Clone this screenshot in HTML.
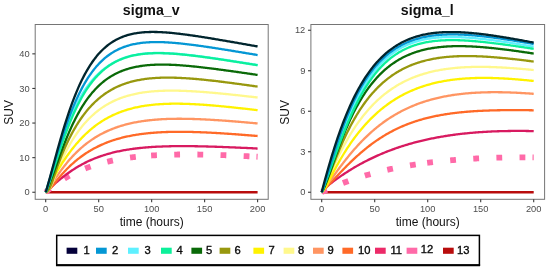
<!DOCTYPE html>
<html><head><meta charset="utf-8"><title>sigma_v / sigma_l</title>
<style>
html,body{margin:0;padding:0;background:#fff;}
body{width:550px;height:273px;overflow:hidden;font-family:"Liberation Sans",Arial,sans-serif;}
svg{display:block;}
text{font-family:"Liberation Sans",Arial,sans-serif;}
.tk text{font-size:9.3px;fill:#4d4d4d;}
.ax{font-size:12px;fill:#111;}
.ti{font-size:14.2px;font-weight:bold;fill:#111;}
.lg{font-size:11.2px;fill:#0a0a0a;stroke:#0a0a0a;stroke-width:0.35px;}
</style></head><body>
<svg width="550" height="273" viewBox="0 0 550 273">
<rect width="550" height="273" fill="#fff"/>
<g fill="none" stroke-width="2.3" stroke-linejoin="round">
<path d="M45.70,192.25 L257.60,192.25" stroke="#b80c0c"/>
<g stroke="#ff6aa8" stroke-width="5.8" stroke-dasharray="5.8 17.35">
<path d="M45.70,192.25 L46.75,191.26 L47.81,190.36 L48.86,189.50 L49.92,188.66 L50.97,187.84 L52.03,187.03 L53.08,186.23 L54.13,185.44 L55.19,184.67 L56.24,183.91 L57.30,183.17 L58.35,182.45 L59.40,181.74 L60.46,181.05 L61.51,180.37 L62.57,179.71 L63.62,179.06 L64.68,178.43 L65.73,177.80 L66.78,177.20 L67.84,176.60 L68.89,176.02 L69.95,175.45 L71.00,174.90 L72.06,174.35 L73.11,173.82 L74.16,173.30 L75.22,172.79 L76.27,172.29 L77.33,171.81 L78.38,171.33 L79.43,170.86 L80.49,170.41 L81.54,169.96 L82.60,169.53 L83.65,169.10 L84.71,168.69 L85.76,168.28 L86.81,167.88 L87.87,167.49 L88.92,167.11 L89.98,166.74 L91.03,166.38 L92.08,166.02 L93.14,165.68 L94.19,165.34 L95.25,165.01 L96.30,164.68 L97.36,164.37 L98.41,164.06 L99.46,163.76 L100.52,163.47 L101.57,163.18 L102.63,162.90 L103.68,162.63 L104.74,162.36 L105.79,162.10 L106.84,161.85 L107.90,161.60 L108.95,161.36 L110.01,161.12 L111.06,160.89 L112.11,160.67 L113.17,160.45 L114.22,160.23 L115.28,160.03 L116.33,159.82 L117.39,159.63 L118.44,159.43 L119.49,159.25 L120.55,159.06 L121.60,158.89 L122.66,158.71 L123.71,158.55 L124.77,158.38 L125.82,158.22 L126.87,158.07 L127.93,157.92 L128.98,157.77 L130.04,157.63 L131.09,157.49 L132.14,157.36 L133.20,157.23 L134.25,157.10 L135.31,156.98 L136.36,156.86 L137.42,156.75 L138.47,156.63 L139.52,156.53 L140.58,156.42 L141.63,156.32 L142.69,156.22 L143.74,156.13 L144.80,156.04 L145.85,155.95 L146.90,155.86 L147.96,155.78 L149.01,155.70 L150.07,155.63 L151.12,155.55"/>
<path d="M151.12,155.55 L152.18,155.48 L153.25,155.41 L154.31,155.35 L155.38,155.29 L156.44,155.22 L157.50,155.17 L158.57,155.11 L159.63,155.06 L160.69,155.01 L161.76,154.96 L162.82,154.92 L163.89,154.87 L164.95,154.83 L166.01,154.79 L167.08,154.76 L168.14,154.72 L169.20,154.69 L170.27,154.66 L171.33,154.63 L172.40,154.61 L173.46,154.59 L174.52,154.56 L175.59,154.54 L176.65,154.53 L177.71,154.51 L178.78,154.49 L179.84,154.48 L180.91,154.47 L181.97,154.46 L183.03,154.45 L184.10,154.45 L185.16,154.44 L186.23,154.44 L187.29,154.44 L188.35,154.44 L189.42,154.44 L190.48,154.45 L191.54,154.45 L192.61,154.46 L193.67,154.47 L194.74,154.48 L195.80,154.49 L196.86,154.50 L197.93,154.51 L198.99,154.53 L200.05,154.54 L201.12,154.56 L202.18,154.58 L203.25,154.60 L204.31,154.62 L205.37,154.64 L206.44,154.66 L207.50,154.69 L208.56,154.71 L209.63,154.74 L210.69,154.76 L211.76,154.79 L212.82,154.82 L213.88,154.85 L214.95,154.88 L216.01,154.91 L217.07,154.95 L218.14,154.98 L219.20,155.02 L220.27,155.05 L221.33,155.09 L222.39,155.13 L223.46,155.16 L224.52,155.20 L225.58,155.24 L226.65,155.28 L227.71,155.32 L228.78,155.37 L229.84,155.41 L230.90,155.45 L231.97,155.50 L233.03,155.54 L234.10,155.59 L235.16,155.64 L236.22,155.68 L237.29,155.73 L238.35,155.78 L239.41,155.83 L240.48,155.88 L241.54,155.93 L242.61,155.98 L243.67,156.03 L244.73,156.08 L245.80,156.13 L246.86,156.19 L247.92,156.24 L248.99,156.30 L250.05,156.35 L251.12,156.41 L252.18,156.46 L253.24,156.52 L254.31,156.57 L255.37,156.63 L256.43,156.69"/>
<path d="M256.43,156.69 L257.60,156.75"/>
</g>
<path d="M45.70,192.25 L46.76,191.20 L47.82,190.19 L48.88,189.20 L49.94,188.22 L51.00,187.25 L52.06,186.29 L53.12,185.33 L54.18,184.38 L55.24,183.44 L56.30,182.51 L57.35,181.60 L58.41,180.70 L59.47,179.81 L60.53,178.94 L61.59,178.08 L62.65,177.23 L63.71,176.40 L64.77,175.59 L65.83,174.79 L66.89,174.00 L67.95,173.23 L69.01,172.48 L70.07,171.73 L71.13,171.01 L72.19,170.30 L73.25,169.60 L74.31,168.92 L75.37,168.25 L76.43,167.60 L77.49,166.96 L78.54,166.34 L79.60,165.73 L80.66,165.13 L81.72,164.55 L82.78,163.98 L83.84,163.42 L84.90,162.88 L85.96,162.35 L87.02,161.83 L88.08,161.33 L89.14,160.83 L90.20,160.35 L91.26,159.89 L92.32,159.43 L93.38,158.99 L94.44,158.55 L95.50,158.13 L96.56,157.72 L97.62,157.32 L98.68,156.93 L99.73,156.55 L100.79,156.18 L101.85,155.82 L102.91,155.47 L103.97,155.13 L105.03,154.80 L106.09,154.48 L107.15,154.16 L108.21,153.86 L109.27,153.57 L110.33,153.28 L111.39,153.00 L112.45,152.73 L113.51,152.47 L114.57,152.21 L115.63,151.96 L116.69,151.72 L117.75,151.49 L118.81,151.26 L119.87,151.05 L120.92,150.83 L121.98,150.63 L123.04,150.43 L124.10,150.24 L125.16,150.05 L126.22,149.87 L127.28,149.69 L128.34,149.52 L129.40,149.36 L130.46,149.20 L131.52,149.05 L132.58,148.90 L133.64,148.76 L134.70,148.62 L135.76,148.49 L136.82,148.36 L137.88,148.24 L138.94,148.12 L140.00,148.01 L141.06,147.90 L142.11,147.80 L143.17,147.69 L144.23,147.60 L145.29,147.50 L146.35,147.42 L147.41,147.33 L148.47,147.25 L149.53,147.17 L150.59,147.10 L151.65,147.02 L152.71,146.96 L153.77,146.89 L154.83,146.83 L155.89,146.77 L156.95,146.72 L158.01,146.67 L159.07,146.62 L160.13,146.57 L161.19,146.53 L162.25,146.48 L163.30,146.45 L164.36,146.41 L165.42,146.38 L166.48,146.34 L167.54,146.32 L168.60,146.29 L169.66,146.27 L170.72,146.24 L171.78,146.22 L172.84,146.21 L173.90,146.19 L174.96,146.18 L176.02,146.17 L177.08,146.16 L178.14,146.15 L179.20,146.14 L180.26,146.14 L181.32,146.13 L182.38,146.13 L183.44,146.13 L184.49,146.14 L185.55,146.14 L186.61,146.14 L187.67,146.15 L188.73,146.16 L189.79,146.17 L190.85,146.18 L191.91,146.19 L192.97,146.21 L194.03,146.22 L195.09,146.24 L196.15,146.25 L197.21,146.27 L198.27,146.29 L199.33,146.31 L200.39,146.33 L201.45,146.36 L202.51,146.38 L203.57,146.40 L204.62,146.43 L205.68,146.46 L206.74,146.48 L207.80,146.51 L208.86,146.54 L209.92,146.57 L210.98,146.60 L212.04,146.64 L213.10,146.67 L214.16,146.70 L215.22,146.74 L216.28,146.77 L217.34,146.81 L218.40,146.84 L219.46,146.88 L220.52,146.92 L221.58,146.96 L222.64,146.99 L223.70,147.03 L224.76,147.07 L225.81,147.11 L226.87,147.16 L227.93,147.20 L228.99,147.24 L230.05,147.28 L231.11,147.33 L232.17,147.37 L233.23,147.41 L234.29,147.46 L235.35,147.50 L236.41,147.55 L237.47,147.59 L238.53,147.64 L239.59,147.69 L240.65,147.73 L241.71,147.78 L242.77,147.83 L243.83,147.88 L244.89,147.93 L245.95,147.97 L247.00,148.02 L248.06,148.07 L249.12,148.12 L250.18,148.17 L251.24,148.22 L252.30,148.27 L253.36,148.32 L254.42,148.38 L255.48,148.43 L256.54,148.48 L257.60,148.53" stroke="#d81a60"/>
<path d="M45.70,192.25 L46.76,191.72 L47.82,190.92 L48.88,189.96 L49.94,188.90 L51.00,187.74 L52.06,186.50 L53.12,185.19 L54.18,183.84 L55.24,182.50 L56.30,181.16 L57.35,179.84 L58.41,178.55 L59.47,177.27 L60.53,176.02 L61.59,174.80 L62.65,173.60 L63.71,172.43 L64.77,171.29 L65.83,170.17 L66.89,169.07 L67.95,168.01 L69.01,166.96 L70.07,165.94 L71.13,164.95 L72.19,163.98 L73.25,163.03 L74.31,162.11 L75.37,161.20 L76.43,160.32 L77.49,159.46 L78.54,158.62 L79.60,157.81 L80.66,157.01 L81.72,156.23 L82.78,155.47 L83.84,154.73 L84.90,154.00 L85.96,153.30 L87.02,152.61 L88.08,151.94 L89.14,151.29 L90.20,150.65 L91.26,150.03 L92.32,149.42 L93.38,148.83 L94.44,148.26 L95.50,147.70 L96.56,147.16 L97.62,146.63 L98.68,146.11 L99.73,145.61 L100.79,145.12 L101.85,144.64 L102.91,144.18 L103.97,143.72 L105.03,143.28 L106.09,142.86 L107.15,142.44 L108.21,142.04 L109.27,141.64 L110.33,141.26 L111.39,140.89 L112.45,140.53 L113.51,140.18 L114.57,139.84 L115.63,139.51 L116.69,139.19 L117.75,138.88 L118.81,138.58 L119.87,138.29 L120.92,138.00 L121.98,137.73 L123.04,137.46 L124.10,137.20 L125.16,136.95 L126.22,136.71 L127.28,136.48 L128.34,136.25 L129.40,136.03 L130.46,135.82 L131.52,135.61 L132.58,135.42 L133.64,135.23 L134.70,135.04 L135.76,134.86 L136.82,134.69 L137.88,134.53 L138.94,134.37 L140.00,134.22 L141.06,134.07 L142.11,133.93 L143.17,133.79 L144.23,133.66 L145.29,133.54 L146.35,133.42 L147.41,133.31 L148.47,133.20 L149.53,133.09 L150.59,132.99 L151.65,132.90 L152.71,132.81 L153.77,132.73 L154.83,132.64 L155.89,132.57 L156.95,132.50 L158.01,132.43 L159.07,132.36 L160.13,132.30 L161.19,132.25 L162.25,132.19 L163.30,132.15 L164.36,132.10 L165.42,132.06 L166.48,132.02 L167.54,131.99 L168.60,131.95 L169.66,131.93 L170.72,131.90 L171.78,131.88 L172.84,131.86 L173.90,131.85 L174.96,131.83 L176.02,131.82 L177.08,131.81 L178.14,131.81 L179.20,131.81 L180.26,131.81 L181.32,131.81 L182.38,131.82 L183.44,131.82 L184.49,131.84 L185.55,131.85 L186.61,131.86 L187.67,131.88 L188.73,131.90 L189.79,131.92 L190.85,131.94 L191.91,131.97 L192.97,132.00 L194.03,132.03 L195.09,132.06 L196.15,132.09 L197.21,132.12 L198.27,132.16 L199.33,132.20 L200.39,132.24 L201.45,132.28 L202.51,132.32 L203.57,132.37 L204.62,132.41 L205.68,132.46 L206.74,132.51 L207.80,132.56 L208.86,132.61 L209.92,132.67 L210.98,132.72 L212.04,132.78 L213.10,132.83 L214.16,132.89 L215.22,132.95 L216.28,133.01 L217.34,133.07 L218.40,133.13 L219.46,133.20 L220.52,133.26 L221.58,133.33 L222.64,133.39 L223.70,133.46 L224.76,133.53 L225.81,133.60 L226.87,133.67 L227.93,133.74 L228.99,133.81 L230.05,133.89 L231.11,133.96 L232.17,134.04 L233.23,134.11 L234.29,134.19 L235.35,134.26 L236.41,134.34 L237.47,134.42 L238.53,134.50 L239.59,134.58 L240.65,134.66 L241.71,134.74 L242.77,134.82 L243.83,134.90 L244.89,134.98 L245.95,135.07 L247.00,135.15 L248.06,135.23 L249.12,135.32 L250.18,135.40 L251.24,135.49 L252.30,135.57 L253.36,135.66 L254.42,135.75 L255.48,135.84 L256.54,135.92 L257.60,136.01" stroke="#ff6a28"/>
<path d="M45.70,192.25 L46.76,190.94 L47.82,189.51 L48.88,188.03 L49.94,186.52 L51.00,184.98 L52.06,183.43 L53.12,181.86 L54.18,180.28 L55.24,178.71 L56.30,177.16 L57.35,175.62 L58.41,174.10 L59.47,172.60 L60.53,171.13 L61.59,169.68 L62.65,168.26 L63.71,166.87 L64.77,165.50 L65.83,164.17 L66.89,162.87 L67.95,161.59 L69.01,160.34 L70.07,159.12 L71.13,157.93 L72.19,156.77 L73.25,155.63 L74.31,154.53 L75.37,153.44 L76.43,152.39 L77.49,151.36 L78.54,150.36 L79.60,149.38 L80.66,148.42 L81.72,147.49 L82.78,146.58 L83.84,145.70 L84.90,144.84 L85.96,144.00 L87.02,143.18 L88.08,142.38 L89.14,141.60 L90.20,140.85 L91.26,140.11 L92.32,139.39 L93.38,138.69 L94.44,138.01 L95.50,137.35 L96.56,136.70 L97.62,136.07 L98.68,135.46 L99.73,134.87 L100.79,134.29 L101.85,133.73 L102.91,133.18 L103.97,132.65 L105.03,132.13 L106.09,131.63 L107.15,131.14 L108.21,130.66 L109.27,130.20 L110.33,129.75 L111.39,129.32 L112.45,128.89 L113.51,128.48 L114.57,128.09 L115.63,127.70 L116.69,127.32 L117.75,126.96 L118.81,126.61 L119.87,126.27 L120.92,125.94 L121.98,125.62 L123.04,125.30 L124.10,125.00 L125.16,124.71 L126.22,124.43 L127.28,124.16 L128.34,123.89 L129.40,123.64 L130.46,123.39 L131.52,123.16 L132.58,122.93 L133.64,122.71 L134.70,122.49 L135.76,122.29 L136.82,122.09 L137.88,121.90 L138.94,121.72 L140.00,121.54 L141.06,121.37 L142.11,121.21 L143.17,121.05 L144.23,120.90 L145.29,120.76 L146.35,120.62 L147.41,120.49 L148.47,120.36 L149.53,120.24 L150.59,120.13 L151.65,120.02 L152.71,119.92 L153.77,119.82 L154.83,119.73 L155.89,119.64 L156.95,119.56 L158.01,119.48 L159.07,119.40 L160.13,119.34 L161.19,119.27 L162.25,119.21 L163.30,119.15 L164.36,119.10 L165.42,119.06 L166.48,119.01 L167.54,118.97 L168.60,118.94 L169.66,118.90 L170.72,118.87 L171.78,118.85 L172.84,118.83 L173.90,118.81 L174.96,118.79 L176.02,118.78 L177.08,118.77 L178.14,118.77 L179.20,118.77 L180.26,118.77 L181.32,118.77 L182.38,118.78 L183.44,118.78 L184.49,118.80 L185.55,118.81 L186.61,118.83 L187.67,118.85 L188.73,118.87 L189.79,118.89 L190.85,118.92 L191.91,118.95 L192.97,118.98 L194.03,119.01 L195.09,119.04 L196.15,119.08 L197.21,119.12 L198.27,119.16 L199.33,119.20 L200.39,119.25 L201.45,119.29 L202.51,119.34 L203.57,119.39 L204.62,119.44 L205.68,119.50 L206.74,119.55 L207.80,119.61 L208.86,119.67 L209.92,119.72 L210.98,119.79 L212.04,119.85 L213.10,119.91 L214.16,119.98 L215.22,120.04 L216.28,120.11 L217.34,120.18 L218.40,120.25 L219.46,120.32 L220.52,120.39 L221.58,120.47 L222.64,120.54 L223.70,120.62 L224.76,120.69 L225.81,120.77 L226.87,120.85 L227.93,120.93 L228.99,121.01 L230.05,121.09 L231.11,121.17 L232.17,121.25 L233.23,121.34 L234.29,121.42 L235.35,121.51 L236.41,121.59 L237.47,121.68 L238.53,121.77 L239.59,121.86 L240.65,121.95 L241.71,122.04 L242.77,122.13 L243.83,122.22 L244.89,122.31 L245.95,122.40 L247.00,122.49 L248.06,122.59 L249.12,122.68 L250.18,122.78 L251.24,122.87 L252.30,122.97 L253.36,123.06 L254.42,123.16 L255.48,123.26 L256.54,123.35 L257.60,123.45" stroke="#ff9562"/>
<path d="M45.70,192.25 L46.76,191.91 L47.82,191.08 L48.88,189.82 L49.94,188.16 L51.00,186.14 L52.06,183.77 L53.12,181.06 L54.18,178.22 L55.24,175.46 L56.30,172.77 L57.35,170.17 L58.41,167.63 L59.47,165.16 L60.53,162.77 L61.59,160.44 L62.65,158.18 L63.71,155.98 L64.77,153.84 L65.83,151.76 L66.89,149.75 L67.95,147.79 L69.01,145.88 L70.07,144.03 L71.13,142.23 L72.19,140.49 L73.25,138.79 L74.31,137.14 L75.37,135.55 L76.43,133.99 L77.49,132.48 L78.54,131.02 L79.60,129.60 L80.66,128.22 L81.72,126.88 L82.78,125.58 L83.84,124.32 L84.90,123.10 L85.96,121.91 L87.02,120.76 L88.08,119.64 L89.14,118.56 L90.20,117.50 L91.26,116.49 L92.32,115.50 L93.38,114.54 L94.44,113.61 L95.50,112.71 L96.56,111.84 L97.62,111.00 L98.68,110.18 L99.73,109.38 L100.79,108.62 L101.85,107.87 L102.91,107.15 L103.97,106.46 L105.03,105.78 L106.09,105.13 L107.15,104.50 L108.21,103.89 L109.27,103.30 L110.33,102.73 L111.39,102.18 L112.45,101.65 L113.51,101.14 L114.57,100.64 L115.63,100.16 L116.69,99.70 L117.75,99.26 L118.81,98.83 L119.87,98.41 L120.92,98.01 L121.98,97.63 L123.04,97.26 L124.10,96.90 L125.16,96.56 L126.22,96.23 L127.28,95.91 L128.34,95.61 L129.40,95.31 L130.46,95.03 L131.52,94.76 L132.58,94.51 L133.64,94.26 L134.70,94.02 L135.76,93.80 L136.82,93.58 L137.88,93.37 L138.94,93.18 L140.00,92.99 L141.06,92.81 L142.11,92.64 L143.17,92.48 L144.23,92.32 L145.29,92.18 L146.35,92.04 L147.41,91.91 L148.47,91.79 L149.53,91.68 L150.59,91.57 L151.65,91.47 L152.71,91.37 L153.77,91.29 L154.83,91.20 L155.89,91.13 L156.95,91.06 L158.01,91.00 L159.07,90.94 L160.13,90.89 L161.19,90.84 L162.25,90.80 L163.30,90.76 L164.36,90.73 L165.42,90.70 L166.48,90.68 L167.54,90.66 L168.60,90.65 L169.66,90.64 L170.72,90.63 L171.78,90.63 L172.84,90.63 L173.90,90.64 L174.96,90.65 L176.02,90.67 L177.08,90.68 L178.14,90.70 L179.20,90.73 L180.26,90.76 L181.32,90.79 L182.38,90.82 L183.44,90.86 L184.49,90.90 L185.55,90.94 L186.61,90.99 L187.67,91.03 L188.73,91.08 L189.79,91.14 L190.85,91.19 L191.91,91.25 L192.97,91.31 L194.03,91.37 L195.09,91.44 L196.15,91.50 L197.21,91.57 L198.27,91.64 L199.33,91.72 L200.39,91.79 L201.45,91.87 L202.51,91.94 L203.57,92.02 L204.62,92.11 L205.68,92.19 L206.74,92.27 L207.80,92.36 L208.86,92.45 L209.92,92.54 L210.98,92.63 L212.04,92.72 L213.10,92.81 L214.16,92.90 L215.22,93.00 L216.28,93.10 L217.34,93.19 L218.40,93.29 L219.46,93.39 L220.52,93.49 L221.58,93.60 L222.64,93.70 L223.70,93.80 L224.76,93.91 L225.81,94.01 L226.87,94.12 L227.93,94.23 L228.99,94.34 L230.05,94.45 L231.11,94.56 L232.17,94.67 L233.23,94.78 L234.29,94.89 L235.35,95.00 L236.41,95.12 L237.47,95.23 L238.53,95.34 L239.59,95.46 L240.65,95.57 L241.71,95.69 L242.77,95.81 L243.83,95.92 L244.89,96.04 L245.95,96.16 L247.00,96.28 L248.06,96.40 L249.12,96.52 L250.18,96.64 L251.24,96.76 L252.30,96.88 L253.36,97.00 L254.42,97.12 L255.48,97.24 L256.54,97.36 L257.60,97.49" stroke="#fff88c"/>
<path d="M45.70,192.25 L46.76,190.08 L47.82,188.05 L48.88,186.07 L49.94,184.11 L51.00,182.18 L52.06,180.26 L53.12,178.36 L54.18,176.48 L55.24,174.63 L56.30,172.80 L57.35,171.01 L58.41,169.24 L59.47,167.51 L60.53,165.80 L61.59,164.13 L62.65,162.49 L63.71,160.87 L64.77,159.29 L65.83,157.74 L66.89,156.21 L67.95,154.72 L69.01,153.26 L70.07,151.83 L71.13,150.43 L72.19,149.06 L73.25,147.71 L74.31,146.40 L75.37,145.12 L76.43,143.86 L77.49,142.63 L78.54,141.43 L79.60,140.26 L80.66,139.11 L81.72,137.99 L82.78,136.90 L83.84,135.83 L84.90,134.79 L85.96,133.78 L87.02,132.79 L88.08,131.82 L89.14,130.88 L90.20,129.96 L91.26,129.06 L92.32,128.19 L93.38,127.34 L94.44,126.51 L95.50,125.70 L96.56,124.92 L97.62,124.15 L98.68,123.41 L99.73,122.68 L100.79,121.98 L101.85,121.29 L102.91,120.62 L103.97,119.97 L105.03,119.34 L106.09,118.73 L107.15,118.14 L108.21,117.56 L109.27,117.00 L110.33,116.45 L111.39,115.92 L112.45,115.41 L113.51,114.91 L114.57,114.43 L115.63,113.96 L116.69,113.51 L117.75,113.07 L118.81,112.65 L119.87,112.23 L120.92,111.84 L121.98,111.45 L123.04,111.08 L124.10,110.72 L125.16,110.37 L126.22,110.03 L127.28,109.71 L128.34,109.39 L129.40,109.09 L130.46,108.80 L131.52,108.52 L132.58,108.25 L133.64,107.99 L134.70,107.73 L135.76,107.49 L136.82,107.26 L137.88,107.04 L138.94,106.83 L140.00,106.62 L141.06,106.43 L142.11,106.24 L143.17,106.06 L144.23,105.89 L145.29,105.72 L146.35,105.57 L147.41,105.42 L148.47,105.28 L149.53,105.14 L150.59,105.02 L151.65,104.90 L152.71,104.78 L153.77,104.68 L154.83,104.58 L155.89,104.48 L156.95,104.39 L158.01,104.31 L159.07,104.24 L160.13,104.16 L161.19,104.10 L162.25,104.04 L163.30,103.98 L164.36,103.94 L165.42,103.89 L166.48,103.85 L167.54,103.82 L168.60,103.79 L169.66,103.76 L170.72,103.74 L171.78,103.72 L172.84,103.71 L173.90,103.70 L174.96,103.69 L176.02,103.69 L177.08,103.70 L178.14,103.70 L179.20,103.71 L180.26,103.73 L181.32,103.75 L182.38,103.77 L183.44,103.79 L184.49,103.82 L185.55,103.85 L186.61,103.88 L187.67,103.92 L188.73,103.96 L189.79,104.00 L190.85,104.04 L191.91,104.09 L192.97,104.14 L194.03,104.19 L195.09,104.25 L196.15,104.31 L197.21,104.37 L198.27,104.43 L199.33,104.49 L200.39,104.56 L201.45,104.63 L202.51,104.70 L203.57,104.77 L204.62,104.85 L205.68,104.92 L206.74,105.00 L207.80,105.08 L208.86,105.17 L209.92,105.25 L210.98,105.34 L212.04,105.42 L213.10,105.51 L214.16,105.60 L215.22,105.69 L216.28,105.79 L217.34,105.88 L218.40,105.98 L219.46,106.08 L220.52,106.17 L221.58,106.27 L222.64,106.38 L223.70,106.48 L224.76,106.58 L225.81,106.69 L226.87,106.79 L227.93,106.90 L228.99,107.01 L230.05,107.12 L231.11,107.23 L232.17,107.34 L233.23,107.45 L234.29,107.56 L235.35,107.68 L236.41,107.79 L237.47,107.90 L238.53,108.02 L239.59,108.14 L240.65,108.26 L241.71,108.37 L242.77,108.49 L243.83,108.61 L244.89,108.73 L245.95,108.85 L247.00,108.97 L248.06,109.10 L249.12,109.22 L250.18,109.34 L251.24,109.47 L252.30,109.59 L253.36,109.72 L254.42,109.84 L255.48,109.97 L256.54,110.09 L257.60,110.22" stroke="#fff200"/>
<path d="M45.70,192.25 L46.76,191.83 L47.82,190.83 L48.88,189.33 L49.94,187.40 L51.00,185.05 L52.06,182.32 L53.12,179.20 L54.18,175.95 L55.24,172.79 L56.30,169.72 L57.35,166.74 L58.41,163.84 L59.47,161.03 L60.53,158.29 L61.59,155.63 L62.65,153.05 L63.71,150.54 L64.77,148.11 L65.83,145.74 L66.89,143.44 L67.95,141.21 L69.01,139.04 L70.07,136.94 L71.13,134.89 L72.19,132.91 L73.25,130.98 L74.31,129.11 L75.37,127.30 L76.43,125.53 L77.49,123.82 L78.54,122.17 L79.60,120.56 L80.66,118.99 L81.72,117.48 L82.78,116.01 L83.84,114.58 L84.90,113.20 L85.96,111.86 L87.02,110.56 L88.08,109.30 L89.14,108.08 L90.20,106.90 L91.26,105.75 L92.32,104.64 L93.38,103.57 L94.44,102.52 L95.50,101.51 L96.56,100.54 L97.62,99.59 L98.68,98.68 L99.73,97.79 L100.79,96.93 L101.85,96.10 L102.91,95.30 L103.97,94.52 L105.03,93.77 L106.09,93.05 L107.15,92.35 L108.21,91.67 L109.27,91.02 L110.33,90.39 L111.39,89.78 L112.45,89.19 L113.51,88.63 L114.57,88.08 L115.63,87.55 L116.69,87.04 L117.75,86.55 L118.81,86.08 L119.87,85.63 L120.92,85.19 L121.98,84.78 L123.04,84.37 L124.10,83.98 L125.16,83.61 L126.22,83.26 L127.28,82.91 L128.34,82.59 L129.40,82.27 L130.46,81.97 L131.52,81.68 L132.58,81.41 L133.64,81.14 L134.70,80.89 L135.76,80.66 L136.82,80.43 L137.88,80.21 L138.94,80.01 L140.00,79.81 L141.06,79.63 L142.11,79.45 L143.17,79.29 L144.23,79.13 L145.29,78.98 L146.35,78.84 L147.41,78.72 L148.47,78.59 L149.53,78.48 L150.59,78.38 L151.65,78.28 L152.71,78.19 L153.77,78.11 L154.83,78.03 L155.89,77.97 L156.95,77.90 L158.01,77.85 L159.07,77.80 L160.13,77.76 L161.19,77.72 L162.25,77.69 L163.30,77.67 L164.36,77.65 L165.42,77.64 L166.48,77.63 L167.54,77.62 L168.60,77.63 L169.66,77.63 L170.72,77.64 L171.78,77.66 L172.84,77.68 L173.90,77.70 L174.96,77.73 L176.02,77.77 L177.08,77.80 L178.14,77.84 L179.20,77.89 L180.26,77.93 L181.32,77.99 L182.38,78.04 L183.44,78.10 L184.49,78.16 L185.55,78.22 L186.61,78.29 L187.67,78.36 L188.73,78.43 L189.79,78.51 L190.85,78.59 L191.91,78.67 L192.97,78.75 L194.03,78.84 L195.09,78.93 L196.15,79.02 L197.21,79.11 L198.27,79.21 L199.33,79.31 L200.39,79.41 L201.45,79.51 L202.51,79.61 L203.57,79.72 L204.62,79.82 L205.68,79.93 L206.74,80.04 L207.80,80.16 L208.86,80.27 L209.92,80.38 L210.98,80.50 L212.04,80.62 L213.10,80.74 L214.16,80.86 L215.22,80.98 L216.28,81.11 L217.34,81.23 L218.40,81.36 L219.46,81.49 L220.52,81.62 L221.58,81.75 L222.64,81.88 L223.70,82.01 L224.76,82.14 L225.81,82.27 L226.87,82.41 L227.93,82.55 L228.99,82.68 L230.05,82.82 L231.11,82.96 L232.17,83.10 L233.23,83.24 L234.29,83.38 L235.35,83.52 L236.41,83.66 L237.47,83.80 L238.53,83.94 L239.59,84.09 L240.65,84.23 L241.71,84.38 L242.77,84.52 L243.83,84.67 L244.89,84.81 L245.95,84.96 L247.00,85.11 L248.06,85.25 L249.12,85.40 L250.18,85.55 L251.24,85.70 L252.30,85.85 L253.36,86.00 L254.42,86.15 L255.48,86.30 L256.54,86.45 L257.60,86.60" stroke="#98980e"/>
<path d="M45.70,192.25 L46.76,190.16 L47.82,187.73 L48.88,185.15 L49.94,182.47 L51.00,179.71 L52.06,176.90 L53.12,174.02 L54.18,171.11 L55.24,168.18 L56.30,165.24 L57.35,162.31 L58.41,159.39 L59.47,156.50 L60.53,153.63 L61.59,150.81 L62.65,148.02 L63.71,145.28 L64.77,142.59 L65.83,139.95 L66.89,137.37 L67.95,134.84 L69.01,132.38 L70.07,129.97 L71.13,127.62 L72.19,125.33 L73.25,123.10 L74.31,120.94 L75.37,118.83 L76.43,116.78 L77.49,114.79 L78.54,112.86 L79.60,110.98 L80.66,109.17 L81.72,107.40 L82.78,105.70 L83.84,104.04 L84.90,102.44 L85.96,100.89 L87.02,99.39 L88.08,97.94 L89.14,96.54 L90.20,95.18 L91.26,93.87 L92.32,92.60 L93.38,91.38 L94.44,90.19 L95.50,89.05 L96.56,87.95 L97.62,86.89 L98.68,85.86 L99.73,84.87 L100.79,83.92 L101.85,83.00 L102.91,82.12 L103.97,81.27 L105.03,80.45 L106.09,79.66 L107.15,78.90 L108.21,78.16 L109.27,77.46 L110.33,76.79 L111.39,76.14 L112.45,75.51 L113.51,74.91 L114.57,74.34 L115.63,73.79 L116.69,73.26 L117.75,72.75 L118.81,72.26 L119.87,71.80 L120.92,71.36 L121.98,70.93 L123.04,70.52 L124.10,70.13 L125.16,69.76 L126.22,69.41 L127.28,69.07 L128.34,68.75 L129.40,68.45 L130.46,68.16 L131.52,67.88 L132.58,67.62 L133.64,67.37 L134.70,67.14 L135.76,66.92 L136.82,66.71 L137.88,66.51 L138.94,66.33 L140.00,66.15 L141.06,65.99 L142.11,65.84 L143.17,65.70 L144.23,65.57 L145.29,65.45 L146.35,65.33 L147.41,65.23 L148.47,65.14 L149.53,65.05 L150.59,64.97 L151.65,64.90 L152.71,64.84 L153.77,64.79 L154.83,64.74 L155.89,64.70 L156.95,64.67 L158.01,64.64 L159.07,64.62 L160.13,64.61 L161.19,64.60 L162.25,64.60 L163.30,64.60 L164.36,64.61 L165.42,64.62 L166.48,64.64 L167.54,64.67 L168.60,64.70 L169.66,64.73 L170.72,64.77 L171.78,64.81 L172.84,64.86 L173.90,64.91 L174.96,64.96 L176.02,65.02 L177.08,65.08 L178.14,65.15 L179.20,65.22 L180.26,65.29 L181.32,65.37 L182.38,65.44 L183.44,65.53 L184.49,65.61 L185.55,65.70 L186.61,65.79 L187.67,65.88 L188.73,65.98 L189.79,66.07 L190.85,66.17 L191.91,66.28 L192.97,66.38 L194.03,66.49 L195.09,66.59 L196.15,66.71 L197.21,66.82 L198.27,66.93 L199.33,67.05 L200.39,67.17 L201.45,67.29 L202.51,67.41 L203.57,67.53 L204.62,67.65 L205.68,67.78 L206.74,67.91 L207.80,68.04 L208.86,68.16 L209.92,68.30 L210.98,68.43 L212.04,68.56 L213.10,68.70 L214.16,68.83 L215.22,68.97 L216.28,69.10 L217.34,69.24 L218.40,69.38 L219.46,69.52 L220.52,69.66 L221.58,69.81 L222.64,69.95 L223.70,70.09 L224.76,70.24 L225.81,70.38 L226.87,70.53 L227.93,70.67 L228.99,70.82 L230.05,70.97 L231.11,71.11 L232.17,71.26 L233.23,71.41 L234.29,71.56 L235.35,71.71 L236.41,71.86 L237.47,72.01 L238.53,72.16 L239.59,72.31 L240.65,72.47 L241.71,72.62 L242.77,72.77 L243.83,72.92 L244.89,73.08 L245.95,73.23 L247.00,73.38 L248.06,73.54 L249.12,73.69 L250.18,73.85 L251.24,74.00 L252.30,74.16 L253.36,74.31 L254.42,74.47 L255.48,74.62 L256.54,74.78 L257.60,74.93" stroke="#0a6a08"/>
<path d="M45.70,192.25 L46.76,189.30 L47.82,186.05 L48.88,182.69 L49.94,179.26 L51.00,175.76 L52.06,172.21 L53.12,168.63 L54.18,165.03 L55.24,161.44 L56.30,157.87 L57.35,154.32 L58.41,150.82 L59.47,147.36 L60.53,143.96 L61.59,140.91 L62.65,137.90 L63.71,134.96 L64.77,132.08 L65.83,129.26 L66.89,126.50 L67.95,123.81 L69.01,121.19 L70.07,118.63 L71.13,116.14 L72.19,113.72 L73.25,111.37 L74.31,109.10 L75.37,106.88 L76.43,104.74 L77.49,102.65 L78.54,100.64 L79.60,98.68 L80.66,96.79 L81.72,94.95 L82.78,93.18 L83.84,91.54 L84.90,89.95 L85.96,88.41 L87.02,86.92 L88.08,85.48 L89.14,84.08 L90.20,82.74 L91.26,81.44 L92.32,80.18 L93.38,78.97 L94.44,77.79 L95.50,76.66 L96.56,75.57 L97.62,74.52 L98.68,73.51 L99.73,72.53 L100.79,71.58 L101.85,70.68 L102.91,69.80 L103.97,68.96 L105.03,68.15 L106.09,67.37 L107.15,66.62 L108.21,65.90 L109.27,65.21 L110.33,64.55 L111.39,63.91 L112.45,63.30 L113.51,62.71 L114.57,62.15 L115.63,61.58 L116.69,61.04 L117.75,60.53 L118.81,60.04 L119.87,59.57 L120.92,59.12 L121.98,58.70 L123.04,58.29 L124.10,57.91 L125.16,57.54 L126.22,57.19 L127.28,56.86 L128.34,56.55 L129.40,56.25 L130.46,55.97 L131.52,55.71 L132.58,55.46 L133.64,55.23 L134.70,55.01 L135.76,54.80 L136.82,54.61 L137.88,54.43 L138.94,54.26 L140.00,54.10 L141.06,53.96 L142.11,53.83 L143.17,53.70 L144.23,53.59 L145.29,53.49 L146.35,53.40 L147.41,53.32 L148.47,53.24 L149.53,53.18 L150.59,53.12 L151.65,53.08 L152.71,53.04 L153.77,53.00 L154.83,52.98 L155.89,52.96 L156.95,52.95 L158.01,52.95 L159.07,52.95 L160.13,52.96 L161.19,52.98 L162.25,53.00 L163.30,53.02 L164.36,53.06 L165.42,53.09 L166.48,53.14 L167.54,53.18 L168.60,53.24 L169.66,53.29 L170.72,53.35 L171.78,53.42 L172.84,53.49 L173.90,53.56 L174.96,53.64 L176.02,53.72 L177.08,53.81 L178.14,53.89 L179.20,53.99 L180.26,54.08 L181.32,54.18 L182.38,54.28 L183.44,54.38 L184.49,54.49 L185.55,54.60 L186.61,54.71 L187.67,54.82 L188.73,54.94 L189.79,55.06 L190.85,55.18 L191.91,55.30 L192.97,55.43 L194.03,55.56 L195.09,55.69 L196.15,55.82 L197.21,55.95 L198.27,56.08 L199.33,56.22 L200.39,56.36 L201.45,56.50 L202.51,56.64 L203.57,56.78 L204.62,56.92 L205.68,57.07 L206.74,57.22 L207.80,57.36 L208.86,57.51 L209.92,57.66 L210.98,57.81 L212.04,57.96 L213.10,58.12 L214.16,58.27 L215.22,58.42 L216.28,58.58 L217.34,58.73 L218.40,58.89 L219.46,59.05 L220.52,59.21 L221.58,59.37 L222.64,59.53 L223.70,59.69 L224.76,59.85 L225.81,60.01 L226.87,60.17 L227.93,60.33 L228.99,60.50 L230.05,60.66 L231.11,60.82 L232.17,60.99 L233.23,61.15 L234.29,61.32 L235.35,61.48 L236.41,61.65 L237.47,61.82 L238.53,61.98 L239.59,62.15 L240.65,62.32 L241.71,62.48 L242.77,62.65 L243.83,62.82 L244.89,62.99 L245.95,63.16 L247.00,63.32 L248.06,63.49 L249.12,63.66 L250.18,63.83 L251.24,64.00 L252.30,64.17 L253.36,64.34 L254.42,64.51 L255.48,64.68 L256.54,64.84 L257.60,65.01" stroke="#5ef0ff"/>
<path d="M45.70,192.25 L46.76,189.57 L47.82,186.63 L48.88,183.58 L49.94,180.46 L51.00,177.29 L52.06,174.07 L53.12,170.82 L54.18,167.54 L55.24,164.26 L56.30,160.98 L57.35,157.72 L58.41,154.48 L59.47,151.28 L60.53,148.12 L61.59,145.01 L62.65,141.94 L63.71,138.93 L64.77,135.97 L65.83,133.08 L66.89,130.25 L67.95,127.48 L69.01,124.78 L70.07,122.15 L71.13,119.58 L72.19,117.08 L73.25,114.64 L74.31,112.28 L75.37,109.98 L76.43,107.75 L77.49,105.58 L78.54,103.48 L79.60,101.44 L80.66,99.47 L81.72,97.56 L82.78,95.70 L83.84,93.91 L84.90,92.18 L85.96,90.50 L87.02,88.88 L88.08,87.32 L89.14,85.81 L90.20,84.35 L91.26,82.94 L92.32,81.58 L93.38,80.27 L94.44,79.01 L95.50,77.79 L96.56,76.62 L97.62,75.49 L98.68,74.40 L99.73,73.35 L100.79,72.34 L101.85,71.37 L102.91,70.44 L103.97,69.55 L105.03,68.69 L106.09,67.86 L107.15,67.07 L108.21,66.30 L109.27,65.57 L110.33,64.87 L111.39,64.20 L112.45,63.56 L113.51,62.94 L114.57,62.35 L115.63,61.79 L116.69,61.25 L117.75,60.74 L118.81,60.25 L119.87,59.78 L120.92,59.33 L121.98,58.90 L123.04,58.50 L124.10,58.11 L125.16,57.75 L126.22,57.40 L127.28,57.07 L128.34,56.76 L129.40,56.46 L130.46,56.18 L131.52,55.92 L132.58,55.67 L133.64,55.43 L134.70,55.21 L135.76,55.01 L136.82,54.81 L137.88,54.63 L138.94,54.47 L140.00,54.31 L141.06,54.17 L142.11,54.03 L143.17,53.91 L144.23,53.80 L145.29,53.70 L146.35,53.61 L147.41,53.52 L148.47,53.45 L149.53,53.39 L150.59,53.33 L151.65,53.28 L152.71,53.24 L153.77,53.21 L154.83,53.19 L155.89,53.17 L156.95,53.16 L158.01,53.16 L159.07,53.16 L160.13,53.17 L161.19,53.18 L162.25,53.20 L163.30,53.23 L164.36,53.26 L165.42,53.30 L166.48,53.34 L167.54,53.39 L168.60,53.44 L169.66,53.50 L170.72,53.56 L171.78,53.63 L172.84,53.70 L173.90,53.77 L174.96,53.85 L176.02,53.93 L177.08,54.01 L178.14,54.10 L179.20,54.19 L180.26,54.29 L181.32,54.39 L182.38,54.49 L183.44,54.59 L184.49,54.70 L185.55,54.81 L186.61,54.92 L187.67,55.03 L188.73,55.15 L189.79,55.27 L190.85,55.39 L191.91,55.51 L192.97,55.64 L194.03,55.76 L195.09,55.89 L196.15,56.02 L197.21,56.16 L198.27,56.29 L199.33,56.43 L200.39,56.57 L201.45,56.71 L202.51,56.85 L203.57,56.99 L204.62,57.13 L205.68,57.28 L206.74,57.42 L207.80,57.57 L208.86,57.72 L209.92,57.87 L210.98,58.02 L212.04,58.17 L213.10,58.32 L214.16,58.48 L215.22,58.63 L216.28,58.79 L217.34,58.94 L218.40,59.10 L219.46,59.26 L220.52,59.41 L221.58,59.57 L222.64,59.73 L223.70,59.89 L224.76,60.06 L225.81,60.22 L226.87,60.38 L227.93,60.54 L228.99,60.70 L230.05,60.87 L231.11,61.03 L232.17,61.20 L233.23,61.36 L234.29,61.53 L235.35,61.69 L236.41,61.86 L237.47,62.02 L238.53,62.19 L239.59,62.36 L240.65,62.52 L241.71,62.69 L242.77,62.86 L243.83,63.03 L244.89,63.19 L245.95,63.36 L247.00,63.53 L248.06,63.70 L249.12,63.87 L250.18,64.04 L251.24,64.21 L252.30,64.38 L253.36,64.54 L254.42,64.71 L255.48,64.88 L256.54,65.05 L257.60,65.22" stroke="#0cf09a"/>
<path d="M45.70,192.25 L46.76,188.86 L47.82,185.36 L48.88,181.81 L49.94,178.24 L51.00,174.64 L52.06,171.03 L53.12,167.41 L54.18,163.78 L55.24,160.18 L56.30,156.60 L57.35,153.05 L58.41,149.54 L59.47,146.08 L60.53,142.67 L61.59,139.32 L62.65,136.03 L63.71,132.80 L64.77,129.63 L65.83,126.54 L66.89,123.51 L67.95,120.55 L69.01,117.67 L70.07,114.85 L71.13,112.11 L72.19,109.44 L73.25,106.85 L74.31,104.33 L75.37,101.87 L76.43,99.49 L77.49,97.19 L78.54,94.95 L79.60,92.77 L80.66,90.67 L81.72,88.63 L82.78,86.66 L83.84,84.75 L84.90,82.91 L85.96,81.12 L87.02,79.40 L88.08,77.73 L89.14,76.13 L90.20,74.58 L91.26,73.08 L92.32,71.64 L93.38,70.24 L94.44,68.90 L95.50,67.61 L96.56,66.37 L97.62,65.17 L98.68,64.02 L99.73,62.91 L100.79,61.84 L101.85,60.82 L102.91,59.83 L103.97,58.89 L105.03,57.98 L106.09,57.11 L107.15,56.28 L108.21,55.48 L109.27,54.71 L110.33,53.98 L111.39,53.27 L112.45,52.60 L113.51,51.96 L114.57,51.34 L115.63,50.76 L116.69,50.20 L117.75,49.66 L118.81,49.15 L119.87,48.67 L120.92,48.21 L121.98,47.77 L123.04,47.35 L124.10,46.95 L125.16,46.58 L126.22,46.22 L127.28,45.88 L128.34,45.57 L129.40,45.26 L130.46,44.98 L131.52,44.71 L132.58,44.46 L133.64,44.23 L134.70,44.01 L135.76,43.80 L136.82,43.61 L137.88,43.43 L138.94,43.27 L140.00,43.12 L141.06,42.98 L142.11,42.85 L143.17,42.73 L144.23,42.63 L145.29,42.53 L146.35,42.45 L147.41,42.37 L148.47,42.31 L149.53,42.25 L150.59,42.20 L151.65,42.16 L152.71,42.13 L153.77,42.11 L154.83,42.09 L155.89,42.09 L156.95,42.09 L158.01,42.09 L159.07,42.11 L160.13,42.13 L161.19,42.15 L162.25,42.18 L163.30,42.22 L164.36,42.26 L165.42,42.31 L166.48,42.37 L167.54,42.42 L168.60,42.49 L169.66,42.55 L170.72,42.63 L171.78,42.70 L172.84,42.78 L173.90,42.87 L174.96,42.96 L176.02,43.05 L177.08,43.15 L178.14,43.25 L179.20,43.35 L180.26,43.45 L181.32,43.56 L182.38,43.67 L183.44,43.79 L184.49,43.91 L185.55,44.03 L186.61,44.15 L187.67,44.27 L188.73,44.40 L189.79,44.53 L190.85,44.66 L191.91,44.80 L192.97,44.93 L194.03,45.07 L195.09,45.21 L196.15,45.35 L197.21,45.49 L198.27,45.64 L199.33,45.78 L200.39,45.93 L201.45,46.08 L202.51,46.23 L203.57,46.38 L204.62,46.54 L205.68,46.69 L206.74,46.85 L207.80,47.00 L208.86,47.16 L209.92,47.32 L210.98,47.48 L212.04,47.64 L213.10,47.80 L214.16,47.97 L215.22,48.13 L216.28,48.29 L217.34,48.46 L218.40,48.62 L219.46,48.79 L220.52,48.96 L221.58,49.13 L222.64,49.29 L223.70,49.46 L224.76,49.63 L225.81,49.80 L226.87,49.97 L227.93,50.14 L228.99,50.31 L230.05,50.49 L231.11,50.66 L232.17,50.83 L233.23,51.00 L234.29,51.18 L235.35,51.35 L236.41,51.52 L237.47,51.70 L238.53,51.87 L239.59,52.05 L240.65,52.22 L241.71,52.39 L242.77,52.57 L243.83,52.74 L244.89,52.92 L245.95,53.10 L247.00,53.27 L248.06,53.45 L249.12,53.62 L250.18,53.80 L251.24,53.97 L252.30,54.15 L253.36,54.33 L254.42,54.50 L255.48,54.68 L256.54,54.86 L257.60,55.03" stroke="#0497d4"/>
<path d="M45.70,192.25 L46.76,188.72 L47.82,185.02 L48.88,181.26 L49.94,177.45 L51.00,173.61 L52.06,169.74 L53.12,165.85 L54.18,161.96 L55.24,158.07 L56.30,154.21 L57.35,150.37 L58.41,146.58 L59.47,142.83 L60.53,139.13 L61.59,135.49 L62.65,131.91 L63.71,128.39 L64.77,124.95 L65.83,121.58 L66.89,118.28 L67.95,115.06 L69.01,111.92 L70.07,108.85 L71.13,105.86 L72.19,102.96 L73.25,100.13 L74.31,97.38 L75.37,94.71 L76.43,92.12 L77.49,89.61 L78.54,87.17 L79.60,84.81 L80.66,82.53 L81.72,80.32 L82.78,78.18 L83.84,76.12 L84.90,74.12 L85.96,72.19 L87.02,70.33 L88.08,68.54 L89.14,66.81 L90.20,65.14 L91.26,63.53 L92.32,61.99 L93.38,60.50 L94.44,59.07 L95.50,57.69 L96.56,56.36 L97.62,55.09 L98.68,53.87 L99.73,52.70 L100.79,51.57 L101.85,50.49 L102.91,49.46 L103.97,48.47 L105.03,47.52 L106.09,46.61 L107.15,45.74 L108.21,44.91 L109.27,44.12 L110.33,43.36 L111.39,42.64 L112.45,41.95 L113.51,41.29 L114.57,40.66 L115.63,40.07 L116.69,39.50 L117.75,38.96 L118.81,38.45 L119.87,37.96 L120.92,37.50 L121.98,37.07 L123.04,36.65 L124.10,36.26 L125.16,35.90 L126.22,35.55 L127.28,35.22 L128.34,34.92 L129.40,34.63 L130.46,34.36 L131.52,34.11 L132.58,33.88 L133.64,33.66 L134.70,33.46 L135.76,33.27 L136.82,33.10 L137.88,32.94 L138.94,32.80 L140.00,32.67 L141.06,32.55 L142.11,32.45 L143.17,32.35 L144.23,32.27 L145.29,32.20 L146.35,32.14 L147.41,32.09 L148.47,32.04 L149.53,32.01 L150.59,31.99 L151.65,31.97 L152.71,31.97 L153.77,31.97 L154.83,31.98 L155.89,32.00 L156.95,32.02 L158.01,32.05 L159.07,32.09 L160.13,32.13 L161.19,32.18 L162.25,32.24 L163.30,32.30 L164.36,32.37 L165.42,32.44 L166.48,32.52 L167.54,32.60 L168.60,32.68 L169.66,32.77 L170.72,32.87 L171.78,32.97 L172.84,33.07 L173.90,33.18 L174.96,33.29 L176.02,33.40 L177.08,33.52 L178.14,33.64 L179.20,33.76 L180.26,33.89 L181.32,34.02 L182.38,34.15 L183.44,34.28 L184.49,34.42 L185.55,34.56 L186.61,34.70 L187.67,34.85 L188.73,34.99 L189.79,35.14 L190.85,35.29 L191.91,35.44 L192.97,35.60 L194.03,35.75 L195.09,35.91 L196.15,36.07 L197.21,36.23 L198.27,36.39 L199.33,36.55 L200.39,36.71 L201.45,36.88 L202.51,37.04 L203.57,37.21 L204.62,37.38 L205.68,37.55 L206.74,37.72 L207.80,37.89 L208.86,38.06 L209.92,38.24 L210.98,38.41 L212.04,38.59 L213.10,38.76 L214.16,38.94 L215.22,39.11 L216.28,39.29 L217.34,39.47 L218.40,39.65 L219.46,39.83 L220.52,40.01 L221.58,40.18 L222.64,40.37 L223.70,40.55 L224.76,40.73 L225.81,40.91 L226.87,41.09 L227.93,41.27 L228.99,41.45 L230.05,41.64 L231.11,41.82 L232.17,42.00 L233.23,42.19 L234.29,42.37 L235.35,42.55 L236.41,42.74 L237.47,42.92 L238.53,43.11 L239.59,43.29 L240.65,43.48 L241.71,43.66 L242.77,43.84 L243.83,44.03 L244.89,44.21 L245.95,44.40 L247.00,44.58 L248.06,44.77 L249.12,44.95 L250.18,45.14 L251.24,45.32 L252.30,45.51 L253.36,45.69 L254.42,45.88 L255.48,46.06 L256.54,46.25 L257.60,46.43" stroke="#00252e"/>
</g>
<rect x="35.2" y="24.5" width="233.00" height="174.80" fill="none" stroke="#757575" stroke-width="1"/>
<g stroke="#3a3a3a" stroke-width="1.1">
<line x1="32.30" x2="35.20" y1="192.25" y2="192.25"/>
<line x1="32.30" x2="35.20" y1="157.65" y2="157.65"/>
<line x1="32.30" x2="35.20" y1="123.05" y2="123.05"/>
<line x1="32.30" x2="35.20" y1="88.45" y2="88.45"/>
<line x1="32.30" x2="35.20" y1="53.85" y2="53.85"/>
<line x1="45.70" x2="45.70" y1="199.30" y2="202.20"/>
<line x1="98.68" x2="98.68" y1="199.30" y2="202.20"/>
<line x1="151.65" x2="151.65" y1="199.30" y2="202.20"/>
<line x1="204.62" x2="204.62" y1="199.30" y2="202.20"/>
<line x1="257.60" x2="257.60" y1="199.30" y2="202.20"/>
</g>
<g class="tk">
<text x="29.60" y="195.45" text-anchor="end">0</text>
<text x="29.60" y="160.85" text-anchor="end">10</text>
<text x="29.60" y="126.25" text-anchor="end">20</text>
<text x="29.60" y="91.65" text-anchor="end">30</text>
<text x="29.60" y="57.05" text-anchor="end">40</text>
<text x="45.70" y="212.40" text-anchor="middle">0</text>
<text x="98.68" y="212.40" text-anchor="middle">50</text>
<text x="151.65" y="212.40" text-anchor="middle">100</text>
<text x="204.62" y="212.40" text-anchor="middle">150</text>
<text x="257.60" y="212.40" text-anchor="middle">200</text>
</g>
<text class="ax" x="151.70" y="226" text-anchor="middle">time (hours)</text>
<text class="ax" transform="translate(12.90,112.40) rotate(-90)" text-anchor="middle">SUV</text>
<text class="ti" x="151.20" y="15.2" text-anchor="middle">sigma_v</text>
<g fill="none" stroke-width="2.3" stroke-linejoin="round">
<path d="M321.70,192.25 L533.70,192.25" stroke="#b80c0c"/>
<g stroke="#ff6aa8" stroke-width="5.8" stroke-dasharray="5.8 17.35">
<path d="M321.70,192.25 L322.75,191.72 L323.81,191.21 L324.86,190.72 L325.92,190.23 L326.97,189.75 L328.03,189.28 L329.08,188.80 L330.14,188.33 L331.19,187.87 L332.25,187.41 L333.30,186.96 L334.36,186.51 L335.41,186.07 L336.47,185.64 L337.52,185.20 L338.58,184.78 L339.63,184.36 L340.68,183.94 L341.74,183.53 L342.79,183.13 L343.85,182.72 L344.90,182.33 L345.96,181.94 L347.01,181.55 L348.07,181.17 L349.12,180.79 L350.18,180.42 L351.23,180.05 L352.29,179.68 L353.34,179.32 L354.40,178.97 L355.45,178.62 L356.51,178.27 L357.56,177.93 L358.61,177.59 L359.67,177.26 L360.72,176.92 L361.78,176.60 L362.83,176.28 L363.89,175.96 L364.94,175.64 L366.00,175.33 L367.05,175.03 L368.11,174.72 L369.16,174.42 L370.22,174.13 L371.27,173.84 L372.33,173.55 L373.38,173.26 L374.44,172.98 L375.49,172.71 L376.54,172.43 L377.60,172.16 L378.65,171.89 L379.71,171.63 L380.76,171.37 L381.82,171.11 L382.87,170.86 L383.93,170.61 L384.98,170.36 L386.04,170.12 L387.09,169.88 L388.15,169.64 L389.20,169.41 L390.26,169.18 L391.31,168.95 L392.36,168.72 L393.42,168.50 L394.47,168.28 L395.53,168.07 L396.58,167.85 L397.64,167.64 L398.69,167.44 L399.75,167.23 L400.80,167.03 L401.86,166.83 L402.91,166.64 L403.97,166.44 L405.02,166.25 L406.08,166.07 L407.13,165.88 L408.19,165.70 L409.24,165.52 L410.29,165.34 L411.35,165.17 L412.40,164.99 L413.46,164.82 L414.51,164.66 L415.57,164.49 L416.62,164.33 L417.68,164.17 L418.73,164.01 L419.79,163.86 L420.84,163.71 L421.90,163.56 L422.95,163.41 L424.01,163.26 L425.06,163.12 L426.12,162.98 L427.17,162.84"/>
<path d="M427.17,162.84 L428.23,162.70 L429.30,162.57 L430.36,162.43 L431.43,162.30 L432.49,162.17 L433.56,162.05 L434.62,161.92 L435.68,161.80 L436.75,161.68 L437.81,161.56 L438.88,161.44 L439.94,161.33 L441.01,161.22 L442.07,161.11 L443.13,161.00 L444.20,160.89 L445.26,160.79 L446.33,160.69 L447.39,160.58 L448.46,160.49 L449.52,160.39 L450.58,160.29 L451.65,160.20 L452.71,160.11 L453.78,160.02 L454.84,159.93 L455.91,159.85 L456.97,159.76 L458.03,159.68 L459.10,159.60 L460.16,159.52 L461.23,159.44 L462.29,159.36 L463.36,159.29 L464.42,159.22 L465.48,159.15 L466.55,159.08 L467.61,159.01 L468.68,158.94 L469.74,158.88 L470.81,158.81 L471.87,158.75 L472.93,158.69 L474.00,158.63 L475.06,158.58 L476.13,158.52 L477.19,158.47 L478.26,158.41 L479.32,158.36 L480.38,158.31 L481.45,158.26 L482.51,158.21 L483.58,158.17 L484.64,158.12 L485.71,158.08 L486.77,158.04 L487.83,158.00 L488.90,157.96 L489.96,157.92 L491.03,157.88 L492.09,157.84 L493.16,157.81 L494.22,157.78 L495.28,157.74 L496.35,157.71 L497.41,157.68 L498.48,157.65 L499.54,157.63 L500.61,157.60 L501.67,157.58 L502.73,157.55 L503.80,157.53 L504.86,157.51 L505.93,157.49 L506.99,157.47 L508.06,157.45 L509.12,157.43 L510.18,157.41 L511.25,157.40 L512.31,157.38 L513.38,157.37 L514.44,157.36 L515.51,157.34 L516.57,157.33 L517.63,157.32 L518.70,157.32 L519.76,157.31 L520.83,157.30 L521.89,157.29 L522.96,157.29 L524.02,157.29 L525.08,157.28 L526.15,157.28 L527.21,157.28 L528.28,157.28 L529.34,157.28 L530.41,157.28 L531.47,157.28 L532.53,157.28"/>
<path d="M532.53,157.28 L533.70,157.29"/>
</g>
<path d="M321.70,192.25 L322.76,190.65 L323.82,189.46 L324.88,188.39 L325.94,187.39 L327.00,186.45 L328.06,185.53 L329.12,184.65 L330.18,183.83 L331.24,183.02 L332.30,182.22 L333.36,181.42 L334.42,180.64 L335.48,179.86 L336.54,179.10 L337.60,178.34 L338.66,177.59 L339.72,176.85 L340.78,176.12 L341.84,175.40 L342.90,174.68 L343.96,173.98 L345.02,173.28 L346.08,172.59 L347.14,171.91 L348.20,171.23 L349.26,170.57 L350.32,169.91 L351.38,169.26 L352.44,168.62 L353.50,167.99 L354.56,167.36 L355.62,166.75 L356.68,166.13 L357.74,165.53 L358.80,164.94 L359.86,164.35 L360.92,163.77 L361.98,163.19 L363.04,162.63 L364.10,162.07 L365.16,161.52 L366.22,160.97 L367.28,160.43 L368.34,159.90 L369.40,159.38 L370.46,158.86 L371.52,158.35 L372.58,157.84 L373.64,157.34 L374.70,156.85 L375.76,156.37 L376.82,155.89 L377.88,155.42 L378.94,154.95 L380.00,154.49 L381.06,154.03 L382.12,153.59 L383.18,153.15 L384.24,152.71 L385.30,152.28 L386.36,151.86 L387.42,151.44 L388.48,151.02 L389.54,150.62 L390.60,150.22 L391.66,149.82 L392.72,149.43 L393.78,149.05 L394.84,148.67 L395.90,148.29 L396.96,147.93 L398.02,147.56 L399.08,147.21 L400.14,146.85 L401.20,146.51 L402.26,146.16 L403.32,145.83 L404.38,145.49 L405.44,145.17 L406.50,144.84 L407.56,144.53 L408.62,144.21 L409.68,143.91 L410.74,143.60 L411.80,143.31 L412.86,143.01 L413.92,142.72 L414.98,142.44 L416.04,142.16 L417.10,141.88 L418.16,141.61 L419.22,141.34 L420.28,141.08 L421.34,140.82 L422.40,140.57 L423.46,140.32 L424.52,140.08 L425.58,139.83 L426.64,139.60 L427.70,139.36 L428.76,139.14 L429.82,138.91 L430.88,138.69 L431.94,138.47 L433.00,138.26 L434.06,138.05 L435.12,137.84 L436.18,137.64 L437.24,137.44 L438.30,137.25 L439.36,137.06 L440.42,136.87 L441.48,136.69 L442.54,136.51 L443.60,136.33 L444.66,136.16 L445.72,135.99 L446.78,135.82 L447.84,135.66 L448.90,135.50 L449.96,135.34 L451.02,135.19 L452.08,135.04 L453.14,134.90 L454.20,134.75 L455.26,134.61 L456.32,134.48 L457.38,134.34 L458.44,134.21 L459.50,134.08 L460.56,133.96 L461.62,133.84 L462.68,133.72 L463.74,133.60 L464.80,133.49 L465.86,133.38 L466.92,133.27 L467.98,133.17 L469.04,133.07 L470.10,132.97 L471.16,132.87 L472.22,132.78 L473.28,132.69 L474.34,132.60 L475.40,132.51 L476.46,132.43 L477.52,132.35 L478.58,132.27 L479.64,132.19 L480.70,132.12 L481.76,132.05 L482.82,131.98 L483.88,131.92 L484.94,131.85 L486.00,131.79 L487.06,131.73 L488.12,131.68 L489.18,131.62 L490.24,131.57 L491.30,131.52 L492.36,131.47 L493.42,131.43 L494.48,131.38 L495.54,131.34 L496.60,131.30 L497.66,131.27 L498.72,131.23 L499.78,131.20 L500.84,131.17 L501.90,131.14 L502.96,131.11 L504.02,131.09 L505.08,131.07 L506.14,131.05 L507.20,131.03 L508.26,131.01 L509.32,130.99 L510.38,130.98 L511.44,130.97 L512.50,130.96 L513.56,130.95 L514.62,130.94 L515.68,130.94 L516.74,130.94 L517.80,130.94 L518.86,130.94 L519.92,130.94 L520.98,130.94 L522.04,130.95 L523.10,130.95 L524.16,130.96 L525.22,130.97 L526.28,130.98 L527.34,131.00 L528.40,131.01 L529.46,131.03 L530.52,131.05 L531.58,131.07 L532.64,131.09 L533.70,131.11" stroke="#d81a60"/>
<path d="M321.70,192.25 L322.76,191.18 L323.82,190.08 L324.88,188.98 L325.94,187.86 L327.00,186.74 L328.06,185.61 L329.12,184.48 L330.18,183.35 L331.24,182.21 L332.30,181.08 L333.36,179.94 L334.42,178.81 L335.48,177.68 L336.54,176.55 L337.60,175.42 L338.66,174.30 L339.72,173.18 L340.78,172.07 L341.84,170.97 L342.90,169.87 L343.96,168.78 L345.02,167.70 L346.08,166.63 L347.14,165.56 L348.20,164.51 L349.26,163.46 L350.32,162.43 L351.38,161.40 L352.44,160.39 L353.50,159.39 L354.56,158.40 L355.62,157.42 L356.68,156.45 L357.74,155.49 L358.80,154.55 L359.86,153.61 L360.92,152.69 L361.98,151.79 L363.04,150.89 L364.10,150.01 L365.16,149.14 L366.22,148.28 L367.28,147.44 L368.34,146.60 L369.40,145.78 L370.46,144.98 L371.52,144.18 L372.58,143.40 L373.64,142.63 L374.70,141.87 L375.76,141.13 L376.82,140.40 L377.88,139.68 L378.94,138.97 L380.00,138.28 L381.06,137.60 L382.12,136.93 L383.18,136.27 L384.24,135.62 L385.30,134.99 L386.36,134.36 L387.42,133.75 L388.48,133.15 L389.54,132.56 L390.60,131.99 L391.66,131.42 L392.72,130.87 L393.78,130.32 L394.84,129.79 L395.90,129.27 L396.96,128.75 L398.02,128.25 L399.08,127.76 L400.14,127.28 L401.20,126.81 L402.26,126.34 L403.32,125.89 L404.38,125.45 L405.44,125.02 L406.50,124.59 L407.56,124.18 L408.62,123.77 L409.68,123.38 L410.74,122.99 L411.80,122.61 L412.86,122.24 L413.92,121.87 L414.98,121.52 L416.04,121.17 L417.10,120.84 L418.16,120.50 L419.22,120.18 L420.28,119.87 L421.34,119.56 L422.40,119.26 L423.46,118.96 L424.52,118.68 L425.58,118.40 L426.64,118.13 L427.70,117.86 L428.76,117.60 L429.82,117.35 L430.88,117.10 L431.94,116.86 L433.00,116.63 L434.06,116.40 L435.12,116.18 L436.18,115.96 L437.24,115.75 L438.30,115.54 L439.36,115.34 L440.42,115.15 L441.48,114.96 L442.54,114.78 L443.60,114.60 L444.66,114.42 L445.72,114.25 L446.78,114.09 L447.84,113.93 L448.90,113.77 L449.96,113.62 L451.02,113.48 L452.08,113.33 L453.14,113.20 L454.20,113.06 L455.26,112.93 L456.32,112.81 L457.38,112.69 L458.44,112.57 L459.50,112.45 L460.56,112.34 L461.62,112.24 L462.68,112.13 L463.74,112.03 L464.80,111.93 L465.86,111.84 L466.92,111.75 L467.98,111.66 L469.04,111.58 L470.10,111.50 L471.16,111.42 L472.22,111.35 L473.28,111.27 L474.34,111.20 L475.40,111.14 L476.46,111.07 L477.52,111.01 L478.58,110.95 L479.64,110.90 L480.70,110.84 L481.76,110.79 L482.82,110.74 L483.88,110.69 L484.94,110.65 L486.00,110.61 L487.06,110.57 L488.12,110.53 L489.18,110.49 L490.24,110.46 L491.30,110.42 L492.36,110.39 L493.42,110.36 L494.48,110.34 L495.54,110.31 L496.60,110.29 L497.66,110.27 L498.72,110.25 L499.78,110.23 L500.84,110.21 L501.90,110.19 L502.96,110.18 L504.02,110.17 L505.08,110.16 L506.14,110.15 L507.20,110.14 L508.26,110.13 L509.32,110.13 L510.38,110.12 L511.44,110.12 L512.50,110.12 L513.56,110.12 L514.62,110.12 L515.68,110.12 L516.74,110.12 L517.80,110.13 L518.86,110.13 L519.92,110.14 L520.98,110.14 L522.04,110.15 L523.10,110.16 L524.16,110.17 L525.22,110.18 L526.28,110.19 L527.34,110.21 L528.40,110.22 L529.46,110.23 L530.52,110.25 L531.58,110.26 L532.64,110.28 L533.70,110.30" stroke="#ff6a28"/>
<path d="M321.70,192.25 L322.76,190.86 L323.82,189.44 L324.88,187.99 L325.94,186.54 L327.00,185.08 L328.06,183.61 L329.12,182.14 L330.18,180.66 L331.24,179.18 L332.30,177.71 L333.36,176.24 L334.42,174.77 L335.48,173.31 L336.54,171.86 L337.60,170.41 L338.66,168.98 L339.72,167.55 L340.78,166.14 L341.84,164.74 L342.90,163.35 L343.96,161.98 L345.02,160.62 L346.08,159.27 L347.14,157.94 L348.20,156.63 L349.26,155.33 L350.32,154.05 L351.38,152.79 L352.44,151.54 L353.50,150.30 L354.56,149.09 L355.62,147.89 L356.68,146.71 L357.74,145.54 L358.80,144.40 L359.86,143.27 L360.92,142.15 L361.98,141.06 L363.04,139.98 L364.10,138.91 L365.16,137.87 L366.22,136.84 L367.28,135.83 L368.34,134.83 L369.40,133.85 L370.46,132.89 L371.52,131.94 L372.58,131.01 L373.64,130.10 L374.70,129.20 L375.76,128.31 L376.82,127.44 L377.88,126.59 L378.94,125.75 L380.00,124.93 L381.06,124.12 L382.12,123.33 L383.18,122.55 L384.24,121.78 L385.30,121.03 L386.36,120.29 L387.42,119.57 L388.48,118.86 L389.54,118.16 L390.60,117.48 L391.66,116.81 L392.72,116.15 L393.78,115.51 L394.84,114.87 L395.90,114.25 L396.96,113.65 L398.02,113.05 L399.08,112.47 L400.14,111.89 L401.20,111.33 L402.26,110.78 L403.32,110.24 L404.38,109.72 L405.44,109.20 L406.50,108.69 L407.56,108.20 L408.62,107.71 L409.68,107.24 L410.74,106.77 L411.80,106.32 L412.86,105.88 L413.92,105.44 L414.98,105.02 L416.04,104.60 L417.10,104.19 L418.16,103.79 L419.22,103.41 L420.28,103.03 L421.34,102.66 L422.40,102.29 L423.46,101.94 L424.52,101.59 L425.58,101.26 L426.64,100.93 L427.70,100.61 L428.76,100.29 L429.82,99.99 L430.88,99.69 L431.94,99.40 L433.00,99.12 L434.06,98.84 L435.12,98.57 L436.18,98.31 L437.24,98.06 L438.30,97.81 L439.36,97.57 L440.42,97.33 L441.48,97.10 L442.54,96.88 L443.60,96.67 L444.66,96.46 L445.72,96.26 L446.78,96.06 L447.84,95.87 L448.90,95.69 L449.96,95.51 L451.02,95.33 L452.08,95.17 L453.14,95.00 L454.20,94.85 L455.26,94.70 L456.32,94.55 L457.38,94.41 L458.44,94.28 L459.50,94.14 L460.56,94.02 L461.62,93.90 L462.68,93.78 L463.74,93.67 L464.80,93.57 L465.86,93.46 L466.92,93.37 L467.98,93.27 L469.04,93.18 L470.10,93.10 L471.16,93.02 L472.22,92.94 L473.28,92.87 L474.34,92.81 L475.40,92.74 L476.46,92.68 L477.52,92.63 L478.58,92.57 L479.64,92.53 L480.70,92.48 L481.76,92.44 L482.82,92.40 L483.88,92.37 L484.94,92.34 L486.00,92.31 L487.06,92.29 L488.12,92.26 L489.18,92.25 L490.24,92.23 L491.30,92.22 L492.36,92.21 L493.42,92.21 L494.48,92.21 L495.54,92.21 L496.60,92.21 L497.66,92.22 L498.72,92.23 L499.78,92.24 L500.84,92.25 L501.90,92.27 L502.96,92.29 L504.02,92.31 L505.08,92.34 L506.14,92.37 L507.20,92.40 L508.26,92.43 L509.32,92.46 L510.38,92.50 L511.44,92.54 L512.50,92.58 L513.56,92.62 L514.62,92.67 L515.68,92.72 L516.74,92.77 L517.80,92.82 L518.86,92.87 L519.92,92.93 L520.98,92.99 L522.04,93.05 L523.10,93.11 L524.16,93.17 L525.22,93.24 L526.28,93.31 L527.34,93.38 L528.40,93.45 L529.46,93.52 L530.52,93.59 L531.58,93.67 L532.64,93.75 L533.70,93.83" stroke="#ff9562"/>
<path d="M321.70,192.25 L322.76,191.03 L323.82,189.29 L324.88,187.30 L325.94,185.11 L327.00,182.77 L328.06,180.29 L329.12,177.70 L330.18,175.08 L331.24,172.52 L332.30,170.01 L333.36,167.55 L334.42,165.14 L335.48,162.78 L336.54,160.47 L337.60,158.21 L338.66,155.99 L339.72,153.82 L340.78,151.70 L341.84,149.62 L342.90,147.58 L343.96,145.58 L345.02,143.63 L346.08,141.72 L347.14,139.84 L348.20,138.01 L349.26,136.22 L350.32,134.46 L351.38,132.74 L352.44,131.06 L353.50,129.41 L354.56,127.79 L355.62,126.22 L356.68,124.67 L357.74,123.16 L358.80,121.68 L359.86,120.23 L360.92,118.82 L361.98,117.43 L363.04,116.08 L364.10,114.75 L365.16,113.46 L366.22,112.19 L367.28,110.95 L368.34,109.73 L369.40,108.55 L370.46,107.39 L371.52,106.25 L372.58,105.14 L373.64,104.06 L374.70,103.00 L375.76,101.96 L376.82,100.95 L377.88,99.96 L378.94,98.99 L380.00,98.05 L381.06,97.12 L382.12,96.22 L383.18,95.34 L384.24,94.48 L385.30,93.64 L386.36,92.82 L387.42,92.01 L388.48,91.23 L389.54,90.47 L390.60,89.72 L391.66,88.99 L392.72,88.28 L393.78,87.59 L394.84,86.91 L395.90,86.25 L396.96,85.60 L398.02,84.98 L399.08,84.36 L400.14,83.77 L401.20,83.18 L402.26,82.62 L403.32,82.06 L404.38,81.52 L405.44,81.00 L406.50,80.49 L407.56,79.99 L408.62,79.50 L409.68,79.03 L410.74,78.57 L411.80,78.12 L412.86,77.69 L413.92,77.26 L414.98,76.85 L416.04,76.45 L417.10,76.06 L418.16,75.68 L419.22,75.32 L420.28,74.96 L421.34,74.61 L422.40,74.28 L423.46,73.95 L424.52,73.63 L425.58,73.33 L426.64,73.03 L427.70,72.74 L428.76,72.46 L429.82,72.19 L430.88,71.93 L431.94,71.67 L433.00,71.43 L434.06,71.19 L435.12,70.96 L436.18,70.74 L437.24,70.53 L438.30,70.32 L439.36,70.12 L440.42,69.93 L441.48,69.75 L442.54,69.57 L443.60,69.40 L444.66,69.24 L445.72,69.08 L446.78,68.93 L447.84,68.79 L448.90,68.65 L449.96,68.52 L451.02,68.39 L452.08,68.27 L453.14,68.16 L454.20,68.05 L455.26,67.95 L456.32,67.85 L457.38,67.76 L458.44,67.67 L459.50,67.59 L460.56,67.51 L461.62,67.44 L462.68,67.37 L463.74,67.31 L464.80,67.25 L465.86,67.20 L466.92,67.15 L467.98,67.10 L469.04,67.06 L470.10,67.03 L471.16,66.99 L472.22,66.97 L473.28,66.94 L474.34,66.92 L475.40,66.90 L476.46,66.89 L477.52,66.88 L478.58,66.88 L479.64,66.87 L480.70,66.87 L481.76,66.88 L482.82,66.89 L483.88,66.90 L484.94,66.91 L486.00,66.93 L487.06,66.95 L488.12,66.97 L489.18,67.00 L490.24,67.02 L491.30,67.05 L492.36,67.09 L493.42,67.13 L494.48,67.16 L495.54,67.21 L496.60,67.25 L497.66,67.30 L498.72,67.35 L499.78,67.40 L500.84,67.45 L501.90,67.51 L502.96,67.57 L504.02,67.63 L505.08,67.69 L506.14,67.75 L507.20,67.82 L508.26,67.89 L509.32,67.96 L510.38,68.03 L511.44,68.10 L512.50,68.18 L513.56,68.26 L514.62,68.34 L515.68,68.42 L516.74,68.50 L517.80,68.58 L518.86,68.67 L519.92,68.76 L520.98,68.85 L522.04,68.94 L523.10,69.03 L524.16,69.12 L525.22,69.22 L526.28,69.31 L527.34,69.41 L528.40,69.51 L529.46,69.61 L530.52,69.71 L531.58,69.81 L532.64,69.92 L533.70,70.02" stroke="#fff88c"/>
<path d="M321.70,192.25 L322.76,191.43 L323.82,190.16 L324.88,188.63 L325.94,186.91 L327.00,185.02 L328.06,182.99 L329.12,180.84 L330.18,178.65 L331.24,176.50 L332.30,174.39 L333.36,172.31 L334.42,170.27 L335.48,168.27 L336.54,166.30 L337.60,164.37 L338.66,162.47 L339.72,160.61 L340.78,158.78 L341.84,156.98 L342.90,155.22 L343.96,153.48 L345.02,151.78 L346.08,150.11 L347.14,148.47 L348.20,146.86 L349.26,145.28 L350.32,143.72 L351.38,142.20 L352.44,140.70 L353.50,139.24 L354.56,137.80 L355.62,136.38 L356.68,134.99 L357.74,133.63 L358.80,132.30 L359.86,130.98 L360.92,129.70 L361.98,128.44 L363.04,127.20 L364.10,125.98 L365.16,124.79 L366.22,123.62 L367.28,122.48 L368.34,121.35 L369.40,120.25 L370.46,119.17 L371.52,118.11 L372.58,117.07 L373.64,116.05 L374.70,115.05 L375.76,114.08 L376.82,113.12 L377.88,112.18 L378.94,111.25 L380.00,110.35 L381.06,109.47 L382.12,108.60 L383.18,107.75 L384.24,106.92 L385.30,106.11 L386.36,105.31 L387.42,104.53 L388.48,103.77 L389.54,103.02 L390.60,102.28 L391.66,101.57 L392.72,100.87 L393.78,100.18 L394.84,99.51 L395.90,98.85 L396.96,98.21 L398.02,97.58 L399.08,96.96 L400.14,96.36 L401.20,95.78 L402.26,95.20 L403.32,94.64 L404.38,94.09 L405.44,93.55 L406.50,93.03 L407.56,92.52 L408.62,92.02 L409.68,91.53 L410.74,91.06 L411.80,90.59 L412.86,90.14 L413.92,89.70 L414.98,89.27 L416.04,88.84 L417.10,88.43 L418.16,88.04 L419.22,87.65 L420.28,87.27 L421.34,86.90 L422.40,86.54 L423.46,86.19 L424.52,85.85 L425.58,85.51 L426.64,85.19 L427.70,84.88 L428.76,84.57 L429.82,84.28 L430.88,83.99 L431.94,83.71 L433.00,83.44 L434.06,83.18 L435.12,82.92 L436.18,82.68 L437.24,82.44 L438.30,82.20 L439.36,81.98 L440.42,81.76 L441.48,81.55 L442.54,81.35 L443.60,81.16 L444.66,80.97 L445.72,80.79 L446.78,80.61 L447.84,80.44 L448.90,80.28 L449.96,80.12 L451.02,79.97 L452.08,79.83 L453.14,79.69 L454.20,79.56 L455.26,79.43 L456.32,79.31 L457.38,79.20 L458.44,79.09 L459.50,78.99 L460.56,78.89 L461.62,78.80 L462.68,78.71 L463.74,78.62 L464.80,78.55 L465.86,78.47 L466.92,78.41 L467.98,78.34 L469.04,78.28 L470.10,78.23 L471.16,78.18 L472.22,78.13 L473.28,78.09 L474.34,78.06 L475.40,78.02 L476.46,78.00 L477.52,77.97 L478.58,77.95 L479.64,77.94 L480.70,77.92 L481.76,77.91 L482.82,77.91 L483.88,77.91 L484.94,77.91 L486.00,77.92 L487.06,77.93 L488.12,77.94 L489.18,77.95 L490.24,77.97 L491.30,78.00 L492.36,78.02 L493.42,78.05 L494.48,78.08 L495.54,78.12 L496.60,78.16 L497.66,78.20 L498.72,78.24 L499.78,78.29 L500.84,78.34 L501.90,78.39 L502.96,78.44 L504.02,78.50 L505.08,78.56 L506.14,78.62 L507.20,78.69 L508.26,78.75 L509.32,78.82 L510.38,78.89 L511.44,78.97 L512.50,79.04 L513.56,79.12 L514.62,79.20 L515.68,79.29 L516.74,79.37 L517.80,79.46 L518.86,79.55 L519.92,79.64 L520.98,79.73 L522.04,79.83 L523.10,79.92 L524.16,80.02 L525.22,80.12 L526.28,80.22 L527.34,80.33 L528.40,80.43 L529.46,80.54 L530.52,80.65 L531.58,80.76 L532.64,80.87 L533.70,80.98" stroke="#fff200"/>
<path d="M321.70,192.25 L322.76,190.47 L323.82,188.31 L324.88,185.97 L325.94,183.51 L327.00,180.96 L328.06,178.34 L329.12,175.64 L330.18,172.91 L331.24,170.16 L332.30,167.41 L333.36,164.68 L334.42,161.97 L335.48,159.28 L336.54,156.63 L337.60,154.02 L338.66,151.45 L339.72,148.92 L340.78,146.44 L341.84,144.01 L342.90,141.63 L343.96,139.29 L345.02,137.01 L346.08,134.77 L347.14,132.59 L348.20,130.45 L349.26,128.36 L350.32,126.32 L351.38,124.32 L352.44,122.37 L353.50,120.47 L354.56,118.61 L355.62,116.80 L356.68,115.02 L357.74,113.29 L358.80,111.61 L359.86,109.96 L360.92,108.35 L361.98,106.78 L363.04,105.25 L364.10,103.76 L365.16,102.30 L366.22,100.88 L367.28,99.50 L368.34,98.15 L369.40,96.83 L370.46,95.55 L371.52,94.30 L372.58,93.08 L373.64,91.89 L374.70,90.73 L375.76,89.60 L376.82,88.50 L377.88,87.43 L378.94,86.38 L380.00,85.36 L381.06,84.37 L382.12,83.41 L383.18,82.47 L384.24,81.55 L385.30,80.66 L386.36,79.80 L387.42,78.95 L388.48,78.13 L389.54,77.33 L390.60,76.56 L391.66,75.80 L392.72,75.07 L393.78,74.35 L394.84,73.66 L395.90,72.98 L396.96,72.33 L398.02,71.69 L399.08,71.07 L400.14,70.47 L401.20,69.89 L402.26,69.32 L403.32,68.77 L404.38,68.24 L405.44,67.72 L406.50,67.22 L407.56,66.73 L408.62,66.26 L409.68,65.81 L410.74,65.36 L411.80,64.94 L412.86,64.52 L413.92,64.12 L414.98,63.73 L416.04,63.36 L417.10,62.99 L418.16,62.64 L419.22,62.31 L420.28,61.98 L421.34,61.66 L422.40,61.36 L423.46,61.07 L424.52,60.79 L425.58,60.51 L426.64,60.25 L427.70,60.00 L428.76,59.76 L429.82,59.53 L430.88,59.31 L431.94,59.09 L433.00,58.89 L434.06,58.69 L435.12,58.51 L436.18,58.33 L437.24,58.16 L438.30,58.00 L439.36,57.84 L440.42,57.69 L441.48,57.56 L442.54,57.42 L443.60,57.30 L444.66,57.18 L445.72,57.07 L446.78,56.97 L447.84,56.87 L448.90,56.78 L449.96,56.69 L451.02,56.61 L452.08,56.54 L453.14,56.48 L454.20,56.41 L455.26,56.36 L456.32,56.31 L457.38,56.26 L458.44,56.23 L459.50,56.19 L460.56,56.16 L461.62,56.14 L462.68,56.12 L463.74,56.10 L464.80,56.09 L465.86,56.09 L466.92,56.08 L467.98,56.09 L469.04,56.09 L470.10,56.11 L471.16,56.12 L472.22,56.14 L473.28,56.16 L474.34,56.19 L475.40,56.22 L476.46,56.25 L477.52,56.29 L478.58,56.33 L479.64,56.37 L480.70,56.42 L481.76,56.47 L482.82,56.52 L483.88,56.58 L484.94,56.64 L486.00,56.70 L487.06,56.76 L488.12,56.83 L489.18,56.90 L490.24,56.97 L491.30,57.05 L492.36,57.12 L493.42,57.20 L494.48,57.29 L495.54,57.37 L496.60,57.46 L497.66,57.55 L498.72,57.64 L499.78,57.73 L500.84,57.83 L501.90,57.92 L502.96,58.02 L504.02,58.12 L505.08,58.23 L506.14,58.33 L507.20,58.44 L508.26,58.55 L509.32,58.66 L510.38,58.77 L511.44,58.88 L512.50,59.00 L513.56,59.11 L514.62,59.23 L515.68,59.35 L516.74,59.47 L517.80,59.59 L518.86,59.72 L519.92,59.84 L520.98,59.97 L522.04,60.09 L523.10,60.22 L524.16,60.35 L525.22,60.48 L526.28,60.61 L527.34,60.74 L528.40,60.88 L529.46,61.01 L530.52,61.15 L531.58,61.29 L532.64,61.42 L533.70,61.56" stroke="#98980e"/>
<path d="M321.70,192.25 L322.76,190.45 L323.82,188.18 L324.88,185.70 L325.94,183.07 L327.00,180.32 L328.06,177.47 L329.12,174.54 L330.18,171.55 L331.24,168.53 L332.30,165.50 L333.36,162.47 L334.42,159.45 L335.48,156.45 L336.54,153.49 L337.60,150.56 L338.66,147.67 L339.72,144.83 L340.78,142.04 L341.84,139.30 L342.90,136.62 L343.96,133.99 L345.02,131.41 L346.08,128.90 L347.14,126.44 L348.20,124.03 L349.26,121.68 L350.32,119.39 L351.38,117.15 L352.44,114.97 L353.50,112.84 L354.56,110.76 L355.62,108.74 L356.68,106.76 L357.74,104.84 L358.80,102.97 L359.86,101.14 L360.92,99.37 L361.98,97.64 L363.04,95.95 L364.10,94.31 L365.16,92.72 L366.22,91.16 L367.28,89.65 L368.34,88.18 L369.40,86.75 L370.46,85.35 L371.52,84.00 L372.58,82.68 L373.64,81.40 L374.70,80.15 L375.76,78.94 L376.82,77.76 L377.88,76.62 L378.94,75.51 L380.00,74.43 L381.06,73.38 L382.12,72.36 L383.18,71.37 L384.24,70.41 L385.30,69.47 L386.36,68.57 L387.42,67.69 L388.48,66.83 L389.54,66.01 L390.60,65.20 L391.66,64.42 L392.72,63.67 L393.78,62.94 L394.84,62.23 L395.90,61.54 L396.96,60.87 L398.02,60.23 L399.08,59.60 L400.14,59.00 L401.20,58.41 L402.26,57.85 L403.32,57.30 L404.38,56.77 L405.44,56.26 L406.50,55.77 L407.56,55.29 L408.62,54.83 L409.68,54.38 L410.74,53.96 L411.80,53.54 L412.86,53.14 L413.92,52.76 L414.98,52.39 L416.04,52.03 L417.10,51.69 L418.16,51.36 L419.22,51.05 L420.28,50.74 L421.34,50.45 L422.40,50.17 L423.46,49.91 L424.52,49.65 L425.58,49.41 L426.64,49.17 L427.70,48.95 L428.76,48.74 L429.82,48.54 L430.88,48.34 L431.94,48.16 L433.00,47.99 L434.06,47.82 L435.12,47.67 L436.18,47.52 L437.24,47.38 L438.30,47.26 L439.36,47.13 L440.42,47.02 L441.48,46.92 L442.54,46.82 L443.60,46.73 L444.66,46.64 L445.72,46.57 L446.78,46.50 L447.84,46.43 L448.90,46.38 L449.96,46.33 L451.02,46.28 L452.08,46.25 L453.14,46.21 L454.20,46.19 L455.26,46.17 L456.32,46.15 L457.38,46.14 L458.44,46.14 L459.50,46.14 L460.56,46.14 L461.62,46.16 L462.68,46.17 L463.74,46.19 L464.80,46.21 L465.86,46.24 L466.92,46.28 L467.98,46.31 L469.04,46.35 L470.10,46.40 L471.16,46.45 L472.22,46.50 L473.28,46.56 L474.34,46.62 L475.40,46.68 L476.46,46.75 L477.52,46.82 L478.58,46.89 L479.64,46.96 L480.70,47.04 L481.76,47.13 L482.82,47.21 L483.88,47.30 L484.94,47.39 L486.00,47.48 L487.06,47.58 L488.12,47.68 L489.18,47.78 L490.24,47.88 L491.30,47.99 L492.36,48.10 L493.42,48.21 L494.48,48.32 L495.54,48.43 L496.60,48.55 L497.66,48.67 L498.72,48.79 L499.78,48.91 L500.84,49.03 L501.90,49.16 L502.96,49.29 L504.02,49.42 L505.08,49.55 L506.14,49.68 L507.20,49.81 L508.26,49.95 L509.32,50.09 L510.38,50.23 L511.44,50.37 L512.50,50.51 L513.56,50.65 L514.62,50.79 L515.68,50.94 L516.74,51.09 L517.80,51.23 L518.86,51.38 L519.92,51.53 L520.98,51.68 L522.04,51.83 L523.10,51.99 L524.16,52.14 L525.22,52.29 L526.28,52.45 L527.34,52.61 L528.40,52.76 L529.46,52.92 L530.52,53.08 L531.58,53.24 L532.64,53.40 L533.70,53.56" stroke="#0a6a08"/>
<path d="M321.70,192.25 L322.76,189.33 L323.82,186.29 L324.88,183.21 L325.94,180.10 L327.00,176.97 L328.06,173.82 L329.12,170.66 L330.18,167.49 L331.24,164.33 L332.30,161.17 L333.36,158.04 L334.42,154.92 L335.48,151.84 L336.54,148.78 L337.60,145.76 L338.66,142.78 L339.72,139.84 L340.78,136.95 L341.84,134.09 L342.90,131.29 L343.96,128.53 L345.02,125.83 L346.08,123.17 L347.14,120.57 L348.20,118.02 L349.26,115.52 L350.32,113.08 L351.38,110.69 L352.44,108.35 L353.50,106.06 L354.56,103.83 L355.62,101.65 L356.68,99.52 L357.74,97.44 L358.80,95.42 L359.86,93.44 L360.92,91.52 L361.98,89.64 L363.04,87.82 L364.10,86.04 L365.16,84.31 L366.22,82.62 L367.28,80.98 L368.34,79.39 L369.40,77.84 L370.46,76.33 L371.52,74.87 L372.58,73.44 L373.64,72.06 L374.70,70.72 L375.76,69.42 L376.82,68.15 L377.88,66.92 L378.94,65.73 L380.00,64.58 L381.06,63.46 L382.12,62.37 L383.18,61.32 L384.24,60.30 L385.30,59.31 L386.36,58.36 L387.42,57.43 L388.48,56.54 L389.54,55.67 L390.60,54.83 L391.66,54.02 L392.72,53.24 L393.78,52.48 L394.84,51.75 L395.90,51.04 L396.96,50.36 L398.02,49.70 L399.08,49.07 L400.14,48.45 L401.20,47.86 L402.26,47.29 L403.32,46.75 L404.38,46.22 L405.44,45.71 L406.50,45.22 L407.56,44.75 L408.62,44.30 L409.68,43.87 L410.74,43.45 L411.80,43.06 L412.86,42.67 L413.92,42.31 L414.98,41.96 L416.04,41.62 L417.10,41.30 L418.16,41.00 L419.22,40.71 L420.28,40.43 L421.34,40.17 L422.40,39.91 L423.46,39.68 L424.52,39.45 L425.58,39.24 L426.64,39.03 L427.70,38.84 L428.76,38.66 L429.82,38.49 L430.88,38.34 L431.94,38.19 L433.00,38.05 L434.06,37.92 L435.12,37.80 L436.18,37.69 L437.24,37.59 L438.30,37.50 L439.36,37.41 L440.42,37.34 L441.48,37.27 L442.54,37.21 L443.60,37.16 L444.66,37.11 L445.72,37.07 L446.78,37.04 L447.84,37.02 L448.90,37.00 L449.96,36.99 L451.02,36.98 L452.08,36.99 L453.14,36.99 L454.20,37.00 L455.26,37.02 L456.32,37.05 L457.38,37.08 L458.44,37.11 L459.50,37.15 L460.56,37.19 L461.62,37.24 L462.68,37.29 L463.74,37.35 L464.80,37.41 L465.86,37.48 L466.92,37.55 L467.98,37.62 L469.04,37.70 L470.10,37.78 L471.16,37.87 L472.22,37.96 L473.28,38.05 L474.34,38.14 L475.40,38.24 L476.46,38.34 L477.52,38.45 L478.58,38.56 L479.64,38.67 L480.70,38.78 L481.76,38.90 L482.82,39.02 L483.88,39.14 L484.94,39.26 L486.00,39.39 L487.06,39.52 L488.12,39.65 L489.18,39.78 L490.24,39.91 L491.30,40.05 L492.36,40.19 L493.42,40.33 L494.48,40.47 L495.54,40.62 L496.60,40.77 L497.66,40.91 L498.72,41.06 L499.78,41.22 L500.84,41.37 L501.90,41.52 L502.96,41.68 L504.02,41.84 L505.08,42.00 L506.14,42.16 L507.20,42.32 L508.26,42.48 L509.32,42.65 L510.38,42.81 L511.44,42.98 L512.50,43.14 L513.56,43.31 L514.62,43.48 L515.68,43.65 L516.74,43.82 L517.80,44.00 L518.86,44.17 L519.92,44.34 L520.98,44.52 L522.04,44.69 L523.10,44.87 L524.16,45.05 L525.22,45.22 L526.28,45.40 L527.34,45.58 L528.40,45.76 L529.46,45.94 L530.52,46.12 L531.58,46.31 L532.64,46.49 L533.70,46.67" stroke="#5ef0ff"/>
<path d="M321.70,192.25 L322.76,189.61 L323.82,186.82 L324.88,183.98 L325.94,181.10 L327.00,178.19 L328.06,175.26 L329.12,172.31 L330.18,169.35 L331.24,166.38 L332.30,163.41 L333.36,160.45 L334.42,157.50 L335.48,154.57 L336.54,151.66 L337.60,148.77 L338.66,145.91 L339.72,143.08 L340.78,140.28 L341.84,137.52 L342.90,134.80 L343.96,132.12 L345.02,129.48 L346.08,126.88 L347.14,124.33 L348.20,121.82 L349.26,119.36 L350.32,116.94 L351.38,114.58 L352.44,112.26 L353.50,109.99 L354.56,107.76 L355.62,105.59 L356.68,103.46 L357.74,101.38 L358.80,99.35 L359.86,97.37 L360.92,95.44 L361.98,93.55 L363.04,91.71 L364.10,89.92 L365.16,88.17 L366.22,86.46 L367.28,84.81 L368.34,83.19 L369.40,81.62 L370.46,80.09 L371.52,78.61 L372.58,77.16 L373.64,75.76 L374.70,74.39 L375.76,73.07 L376.82,71.78 L377.88,70.53 L378.94,69.32 L380.00,68.14 L381.06,67.00 L382.12,65.90 L383.18,64.83 L384.24,63.79 L385.30,62.78 L386.36,61.81 L387.42,60.86 L388.48,59.95 L389.54,59.07 L390.60,58.22 L391.66,57.39 L392.72,56.59 L393.78,55.82 L394.84,55.08 L395.90,54.36 L396.96,53.67 L398.02,53.00 L399.08,52.35 L400.14,51.73 L401.20,51.13 L402.26,50.56 L403.32,50.00 L404.38,49.47 L405.44,48.95 L406.50,48.46 L407.56,47.98 L408.62,47.53 L409.68,47.09 L410.74,46.67 L411.80,46.27 L412.86,45.88 L413.92,45.51 L414.98,45.16 L416.04,44.82 L417.10,44.50 L418.16,44.20 L419.22,43.90 L420.28,43.62 L421.34,43.36 L422.40,43.11 L423.46,42.87 L424.52,42.64 L425.58,42.42 L426.64,42.22 L427.70,42.03 L428.76,41.85 L429.82,41.68 L430.88,41.52 L431.94,41.37 L433.00,41.23 L434.06,41.10 L435.12,40.98 L436.18,40.87 L437.24,40.77 L438.30,40.68 L439.36,40.59 L440.42,40.51 L441.48,40.44 L442.54,40.38 L443.60,40.33 L444.66,40.28 L445.72,40.24 L446.78,40.21 L447.84,40.18 L448.90,40.16 L449.96,40.15 L451.02,40.14 L452.08,40.14 L453.14,40.14 L454.20,40.15 L455.26,40.16 L456.32,40.18 L457.38,40.21 L458.44,40.23 L459.50,40.27 L460.56,40.31 L461.62,40.35 L462.68,40.40 L463.74,40.45 L464.80,40.50 L465.86,40.56 L466.92,40.63 L467.98,40.69 L469.04,40.76 L470.10,40.84 L471.16,40.91 L472.22,40.99 L473.28,41.08 L474.34,41.16 L475.40,41.25 L476.46,41.35 L477.52,41.44 L478.58,41.54 L479.64,41.64 L480.70,41.74 L481.76,41.85 L482.82,41.95 L483.88,42.06 L484.94,42.18 L486.00,42.29 L487.06,42.41 L488.12,42.53 L489.18,42.65 L490.24,42.77 L491.30,42.89 L492.36,43.02 L493.42,43.15 L494.48,43.28 L495.54,43.41 L496.60,43.54 L497.66,43.67 L498.72,43.81 L499.78,43.95 L500.84,44.08 L501.90,44.22 L502.96,44.36 L504.02,44.51 L505.08,44.65 L506.14,44.79 L507.20,44.94 L508.26,45.08 L509.32,45.23 L510.38,45.38 L511.44,45.53 L512.50,45.68 L513.56,45.83 L514.62,45.98 L515.68,46.13 L516.74,46.29 L517.80,46.44 L518.86,46.60 L519.92,46.75 L520.98,46.91 L522.04,47.06 L523.10,47.22 L524.16,47.38 L525.22,47.54 L526.28,47.70 L527.34,47.86 L528.40,48.02 L529.46,48.18 L530.52,48.34 L531.58,48.50 L532.64,48.66 L533.70,48.83" stroke="#0cf09a"/>
<path d="M321.70,192.25 L322.76,189.29 L323.82,186.11 L324.88,182.84 L325.94,179.51 L327.00,176.14 L328.06,172.72 L329.12,169.28 L330.18,165.82 L331.24,162.37 L332.30,158.95 L333.36,155.55 L334.42,152.20 L335.48,148.88 L336.54,145.62 L337.60,142.41 L338.66,139.26 L339.72,136.16 L340.78,133.13 L341.84,130.17 L342.90,127.26 L343.96,124.42 L345.02,121.65 L346.08,118.94 L347.14,116.29 L348.20,113.71 L349.26,111.19 L350.32,108.74 L351.38,106.35 L352.44,104.02 L353.50,101.75 L354.56,99.54 L355.62,97.39 L356.68,95.29 L357.74,93.25 L358.80,91.27 L359.86,89.34 L360.92,87.46 L361.98,85.63 L363.04,83.86 L364.10,82.13 L365.16,80.46 L366.22,78.83 L367.28,77.24 L368.34,75.70 L369.40,74.21 L370.46,72.76 L371.52,71.34 L372.58,69.97 L373.64,68.64 L374.70,67.35 L375.76,66.10 L376.82,64.89 L377.88,63.71 L378.94,62.56 L380.00,61.45 L381.06,60.38 L382.12,59.33 L383.18,58.32 L384.24,57.34 L385.30,56.39 L386.36,55.47 L387.42,54.58 L388.48,53.71 L389.54,52.88 L390.60,52.07 L391.66,51.29 L392.72,50.53 L393.78,49.80 L394.84,49.09 L395.90,48.40 L396.96,47.74 L398.02,47.10 L399.08,46.49 L400.14,45.89 L401.20,45.32 L402.26,44.76 L403.32,44.23 L404.38,43.71 L405.44,43.21 L406.50,42.74 L407.56,42.28 L408.62,41.83 L409.68,41.41 L410.74,41.00 L411.80,40.60 L412.86,40.23 L413.92,39.87 L414.98,39.52 L416.04,39.19 L417.10,38.87 L418.16,38.56 L419.22,38.27 L420.28,38.00 L421.34,37.73 L422.40,37.48 L423.46,37.24 L424.52,37.01 L425.58,36.79 L426.64,36.59 L427.70,36.40 L428.76,36.21 L429.82,36.04 L430.88,35.88 L431.94,35.72 L433.00,35.58 L434.06,35.45 L435.12,35.32 L436.18,35.21 L437.24,35.10 L438.30,35.00 L439.36,34.91 L440.42,34.83 L441.48,34.76 L442.54,34.69 L443.60,34.63 L444.66,34.58 L445.72,34.54 L446.78,34.50 L447.84,34.47 L448.90,34.45 L449.96,34.43 L451.02,34.42 L452.08,34.41 L453.14,34.41 L454.20,34.42 L455.26,34.43 L456.32,34.45 L457.38,34.47 L458.44,34.50 L459.50,34.53 L460.56,34.57 L461.62,34.61 L462.68,34.66 L463.74,34.71 L464.80,34.77 L465.86,34.83 L466.92,34.90 L467.98,34.96 L469.04,35.04 L470.10,35.11 L471.16,35.19 L472.22,35.28 L473.28,35.37 L474.34,35.46 L475.40,35.55 L476.46,35.65 L477.52,35.75 L478.58,35.85 L479.64,35.96 L480.70,36.07 L481.76,36.18 L482.82,36.30 L483.88,36.42 L484.94,36.54 L486.00,36.66 L487.06,36.79 L488.12,36.92 L489.18,37.05 L490.24,37.18 L491.30,37.32 L492.36,37.45 L493.42,37.59 L494.48,37.74 L495.54,37.88 L496.60,38.02 L497.66,38.17 L498.72,38.32 L499.78,38.47 L500.84,38.62 L501.90,38.78 L502.96,38.93 L504.02,39.09 L505.08,39.25 L506.14,39.41 L507.20,39.57 L508.26,39.74 L509.32,39.90 L510.38,40.07 L511.44,40.23 L512.50,40.40 L513.56,40.57 L514.62,40.74 L515.68,40.91 L516.74,41.09 L517.80,41.26 L518.86,41.44 L519.92,41.61 L520.98,41.79 L522.04,41.97 L523.10,42.14 L524.16,42.32 L525.22,42.50 L526.28,42.69 L527.34,42.87 L528.40,43.05 L529.46,43.23 L530.52,43.42 L531.58,43.60 L532.64,43.79 L533.70,43.97" stroke="#0497d4"/>
<path d="M321.70,192.25 L322.76,187.92 L323.82,183.92 L324.88,180.04 L325.94,176.23 L327.00,172.48 L328.06,168.77 L329.12,165.09 L330.18,161.47 L331.24,157.91 L332.30,154.42 L333.36,150.99 L334.42,147.64 L335.48,144.35 L336.54,141.14 L337.60,137.99 L338.66,134.90 L339.72,131.89 L340.78,128.94 L341.84,126.06 L342.90,123.25 L343.96,120.50 L345.02,117.81 L346.08,115.19 L347.14,112.63 L348.20,110.13 L349.26,107.69 L350.32,105.32 L351.38,103.00 L352.44,100.74 L353.50,98.53 L354.56,96.38 L355.62,94.29 L356.68,92.25 L357.74,90.26 L358.80,88.32 L359.86,86.44 L360.92,84.60 L361.98,82.81 L363.04,81.07 L364.10,79.38 L365.16,77.73 L366.22,76.13 L367.28,74.57 L368.34,73.06 L369.40,71.58 L370.46,70.15 L371.52,68.76 L372.58,67.40 L373.64,66.09 L374.70,64.81 L375.76,63.57 L376.82,62.36 L377.88,61.19 L378.94,60.05 L380.00,58.95 L381.06,57.88 L382.12,56.84 L383.18,55.84 L384.24,54.86 L385.30,53.91 L386.36,52.99 L387.42,52.10 L388.48,51.24 L389.54,50.41 L390.60,49.60 L391.66,48.82 L392.72,48.06 L393.78,47.32 L394.84,46.62 L395.90,45.93 L396.96,45.27 L398.02,44.63 L399.08,44.01 L400.14,43.41 L401.20,42.84 L402.26,42.28 L403.32,41.74 L404.38,41.23 L405.44,40.73 L406.50,40.25 L407.56,39.79 L408.62,39.34 L409.68,38.92 L410.74,38.50 L411.80,38.11 L412.86,37.73 L413.92,37.37 L414.98,37.02 L416.04,36.69 L417.10,36.37 L418.16,36.07 L419.22,35.78 L420.28,35.50 L421.34,35.23 L422.40,34.98 L423.46,34.74 L424.52,34.52 L425.58,34.30 L426.64,34.10 L427.70,33.91 L428.76,33.73 L429.82,33.55 L430.88,33.39 L431.94,33.24 L433.00,33.10 L434.06,32.97 L435.12,32.85 L436.18,32.74 L437.24,32.64 L438.30,32.54 L439.36,32.46 L440.42,32.38 L441.48,32.31 L442.54,32.25 L443.60,32.20 L444.66,32.15 L445.72,32.12 L446.78,32.08 L447.84,32.06 L448.90,32.04 L449.96,32.03 L451.02,32.03 L452.08,32.03 L453.14,32.04 L454.20,32.05 L455.26,32.07 L456.32,32.10 L457.38,32.13 L458.44,32.16 L459.50,32.21 L460.56,32.25 L461.62,32.30 L462.68,32.36 L463.74,32.42 L464.80,32.49 L465.86,32.56 L466.92,32.64 L467.98,32.71 L469.04,32.80 L470.10,32.89 L471.16,32.98 L472.22,33.07 L473.28,33.17 L474.34,33.27 L475.40,33.38 L476.46,33.49 L477.52,33.60 L478.58,33.72 L479.64,33.84 L480.70,33.96 L481.76,34.09 L482.82,34.22 L483.88,34.35 L484.94,34.48 L486.00,34.62 L487.06,34.76 L488.12,34.90 L489.18,35.04 L490.24,35.19 L491.30,35.34 L492.36,35.49 L493.42,35.65 L494.48,35.80 L495.54,35.96 L496.60,36.12 L497.66,36.28 L498.72,36.45 L499.78,36.61 L500.84,36.78 L501.90,36.95 L502.96,37.12 L504.02,37.29 L505.08,37.47 L506.14,37.65 L507.20,37.82 L508.26,38.00 L509.32,38.18 L510.38,38.36 L511.44,38.55 L512.50,38.73 L513.56,38.92 L514.62,39.11 L515.68,39.29 L516.74,39.48 L517.80,39.67 L518.86,39.87 L519.92,40.06 L520.98,40.25 L522.04,40.45 L523.10,40.64 L524.16,40.84 L525.22,41.04 L526.28,41.23 L527.34,41.43 L528.40,41.63 L529.46,41.83 L530.52,42.04 L531.58,42.24 L532.64,42.44 L533.70,42.64" stroke="#00252e"/>
</g>
<rect x="310.9" y="24.5" width="233.70" height="174.80" fill="none" stroke="#757575" stroke-width="1"/>
<g stroke="#3a3a3a" stroke-width="1.1">
<line x1="308.00" x2="310.90" y1="192.25" y2="192.25"/>
<line x1="308.00" x2="310.90" y1="151.75" y2="151.75"/>
<line x1="308.00" x2="310.90" y1="111.25" y2="111.25"/>
<line x1="308.00" x2="310.90" y1="70.75" y2="70.75"/>
<line x1="308.00" x2="310.90" y1="30.25" y2="30.25"/>
<line x1="321.70" x2="321.70" y1="199.30" y2="202.20"/>
<line x1="374.70" x2="374.70" y1="199.30" y2="202.20"/>
<line x1="427.70" x2="427.70" y1="199.30" y2="202.20"/>
<line x1="480.70" x2="480.70" y1="199.30" y2="202.20"/>
<line x1="533.70" x2="533.70" y1="199.30" y2="202.20"/>
</g>
<g class="tk">
<text x="305.30" y="195.45" text-anchor="end">0</text>
<text x="305.30" y="154.95" text-anchor="end">3</text>
<text x="305.30" y="114.45" text-anchor="end">6</text>
<text x="305.30" y="73.95" text-anchor="end">9</text>
<text x="305.30" y="33.45" text-anchor="end">12</text>
<text x="321.70" y="212.40" text-anchor="middle">0</text>
<text x="374.70" y="212.40" text-anchor="middle">50</text>
<text x="427.70" y="212.40" text-anchor="middle">100</text>
<text x="480.70" y="212.40" text-anchor="middle">150</text>
<text x="533.70" y="212.40" text-anchor="middle">200</text>
</g>
<text class="ax" x="427.75" y="226" text-anchor="middle">time (hours)</text>
<text class="ax" transform="translate(288.60,112.40) rotate(-90)" text-anchor="middle">SUV</text>
<text class="ti" x="427.25" y="15.2" text-anchor="middle">sigma_l</text>
<rect x="56.7" y="235.4" width="422.7" height="29.7" fill="#fff" stroke="#000" stroke-width="1.5"/>
<line x1="56" x2="480.1" y1="265.2" y2="265.2" stroke="#000" stroke-width="1.9"/>
<rect x="66.6" y="247.7" width="10.7" height="6.1" fill="#04003a"/>
<text class="lg" x="83.4" y="254.3">1</text>
<rect x="96" y="247.7" width="10.7" height="6.1" fill="#0497d4"/>
<text class="lg" x="112.0" y="254.3">2</text>
<rect x="128" y="247.7" width="10.7" height="6.1" fill="#5ef0ff"/>
<text class="lg" x="144.4" y="254.3">3</text>
<rect x="161" y="247.7" width="10.7" height="6.1" fill="#0cf09a"/>
<text class="lg" x="176.4" y="254.3">4</text>
<rect x="191.4" y="247.7" width="10.7" height="6.1" fill="#0a6a08"/>
<text class="lg" x="206.0" y="254.3">5</text>
<rect x="219.6" y="247.7" width="10.7" height="6.1" fill="#98980e"/>
<text class="lg" x="234.4" y="254.3">6</text>
<rect x="253.4" y="247.7" width="10.7" height="6.1" fill="#fff200"/>
<text class="lg" x="268.4" y="254.3">7</text>
<rect x="283.6" y="247.7" width="10.7" height="6.1" fill="#fff88c"/>
<text class="lg" x="298.0" y="254.3">8</text>
<rect x="313" y="247.7" width="10.7" height="6.1" fill="#ff9562"/>
<text class="lg" x="327.4" y="254.3">9</text>
<rect x="342.4" y="247.7" width="10.7" height="6.1" fill="#ff6a28"/>
<text class="lg" x="358.0" y="254.3">10</text>
<rect x="375" y="247.7" width="10.7" height="6.1" fill="#ec2a68"/>
<text class="lg" x="390.4" y="254.3">11</text>
<rect x="406.6" y="247.7" width="10.7" height="6.1" fill="#ff6aa8"/>
<text class="lg" x="420.79999999999995" y="252.9">12</text>
<rect x="443" y="247.7" width="10.7" height="6.1" fill="#b80c0c"/>
<text class="lg" x="457.0" y="254.3">13</text>
</svg>
</body></html>
